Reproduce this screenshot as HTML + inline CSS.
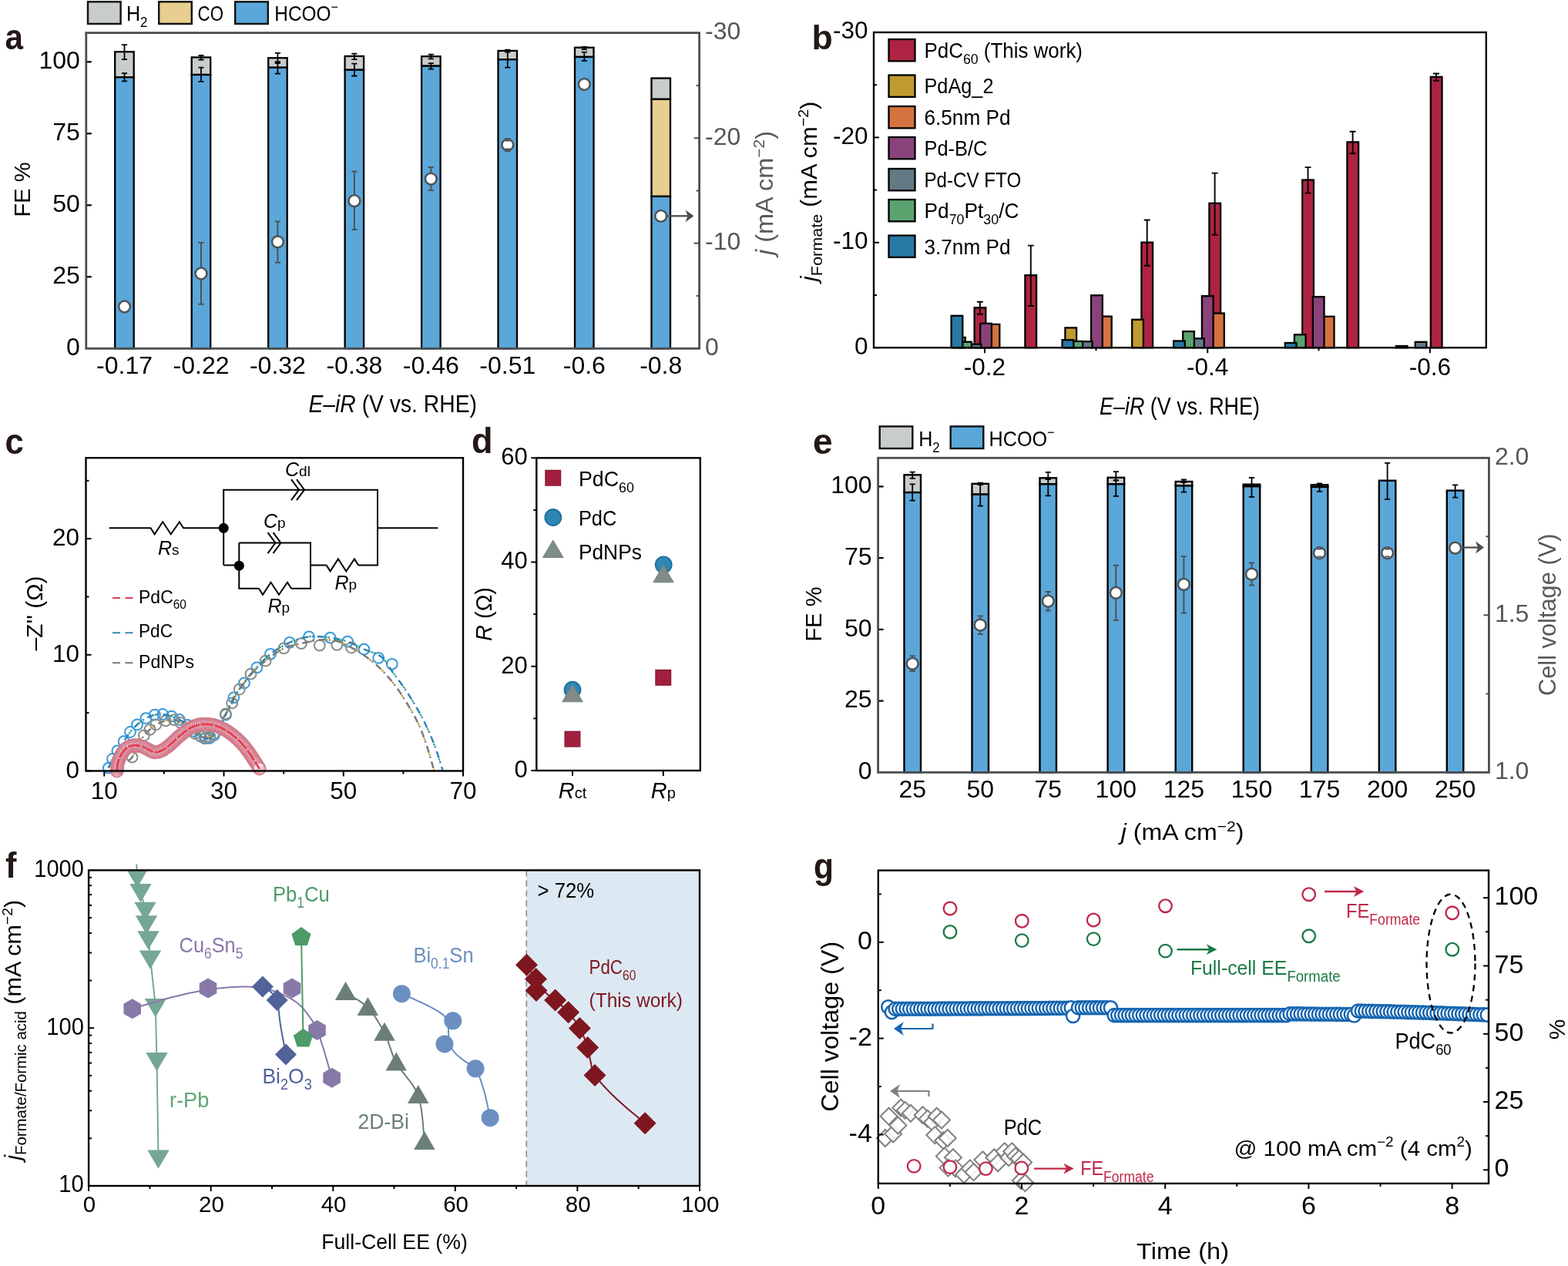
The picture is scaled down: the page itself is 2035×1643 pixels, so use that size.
<!DOCTYPE html>
<html lang="en"><head><meta charset="utf-8"><title>Figure</title>
<style>html,body{margin:0;padding:0;background:#fff;overflow:hidden}svg{display:block}text{font-family:"Liberation Sans",sans-serif}</style></head><body>
<svg width="2035" height="1643" viewBox="0 0 2035 1643">
<rect width="2035" height="1643" fill="#fff"/>
<g>
<rect x="149.2" y="67.2" width="24.5" height="33.1" fill="#C8CCCC" stroke="#000" stroke-width="2.3"/>
<rect x="149.2" y="100.3" width="24.5" height="352" fill="#5BA7DA" stroke="#000" stroke-width="2.3"/>
<rect x="248.7" y="74.4" width="24.5" height="22.6" fill="#C8CCCC" stroke="#000" stroke-width="2.3"/>
<rect x="248.7" y="97" width="24.5" height="355.3" fill="#5BA7DA" stroke="#000" stroke-width="2.3"/>
<rect x="348.2" y="75.2" width="24.5" height="12.5" fill="#C8CCCC" stroke="#000" stroke-width="2.3"/>
<rect x="348.2" y="87.7" width="24.5" height="364.6" fill="#5BA7DA" stroke="#000" stroke-width="2.3"/>
<rect x="447.6" y="72.9" width="24.5" height="17.8" fill="#C8CCCC" stroke="#000" stroke-width="2.3"/>
<rect x="447.6" y="90.7" width="24.5" height="361.6" fill="#5BA7DA" stroke="#000" stroke-width="2.3"/>
<rect x="547.1" y="73.2" width="24.5" height="12.5" fill="#C8CCCC" stroke="#000" stroke-width="2.3"/>
<rect x="547.1" y="85.7" width="24.5" height="366.6" fill="#5BA7DA" stroke="#000" stroke-width="2.3"/>
<rect x="646.5" y="65.9" width="24.5" height="11.3" fill="#C8CCCC" stroke="#000" stroke-width="2.3"/>
<rect x="646.5" y="77.2" width="24.5" height="375.1" fill="#5BA7DA" stroke="#000" stroke-width="2.3"/>
<rect x="746" y="61.7" width="24.5" height="12.2" fill="#C8CCCC" stroke="#000" stroke-width="2.3"/>
<rect x="746" y="73.9" width="24.5" height="378.4" fill="#5BA7DA" stroke="#000" stroke-width="2.3"/>
<rect x="845.5" y="101.5" width="24.5" height="27.3" fill="#C8CCCC" stroke="#000" stroke-width="2.3"/>
<rect x="845.5" y="128.8" width="24.5" height="126.1" fill="#E8CF90" stroke="#000" stroke-width="2.3"/>
<rect x="845.5" y="254.9" width="24.5" height="197.4" fill="#5BA7DA" stroke="#000" stroke-width="2.3"/>
<path d="M161.5 58.1V77.2M157.9 58.1h7.2M157.9 77.2h7.2" fill="none" stroke="#000" stroke-width="1.8"/>
<path d="M161.5 95.2V105.3M157.9 95.2h7.2M157.9 105.3h7.2" fill="none" stroke="#000" stroke-width="1.8"/>
<path d="M261 71.9V77.7M257.4 71.9h7.2M257.4 77.7h7.2" fill="none" stroke="#000" stroke-width="1.8"/>
<path d="M261 87.7V105.8M257.4 87.7h7.2M257.4 105.8h7.2" fill="none" stroke="#000" stroke-width="1.8"/>
<path d="M360.4 68.9V82M356.8 68.9h7.2M356.8 82h7.2" fill="none" stroke="#000" stroke-width="1.8"/>
<path d="M360.4 80.2V95.7M356.8 80.2h7.2M356.8 95.7h7.2" fill="none" stroke="#000" stroke-width="1.8"/>
<path d="M459.9 69.7V77.2M456.3 69.7h7.2M456.3 77.2h7.2" fill="none" stroke="#000" stroke-width="1.8"/>
<path d="M459.9 82.7V98.5M456.3 82.7h7.2M456.3 98.5h7.2" fill="none" stroke="#000" stroke-width="1.8"/>
<path d="M559.3 70.7V76.4M555.7 70.7h7.2M555.7 76.4h7.2" fill="none" stroke="#000" stroke-width="1.8"/>
<path d="M559.3 82.2V89.7M555.7 82.2h7.2M555.7 89.7h7.2" fill="none" stroke="#000" stroke-width="1.8"/>
<path d="M658.8 64.7V67.7M655.2 64.7h7.2M655.2 67.7h7.2" fill="none" stroke="#000" stroke-width="1.8"/>
<path d="M658.8 66.4V87.7M655.2 66.4h7.2M655.2 87.7h7.2" fill="none" stroke="#000" stroke-width="1.8"/>
<path d="M758.3 60.9V64.2M754.7 60.9h7.2M754.7 64.2h7.2" fill="none" stroke="#000" stroke-width="1.8"/>
<path d="M758.3 67.7V78.9M754.7 67.7h7.2M754.7 78.9h7.2" fill="none" stroke="#000" stroke-width="1.8"/>
<rect x="111.8" y="42.6" width="795.8" height="409.7" fill="none" stroke="#4A4F52" stroke-width="2.8"/>
<text x="103.8" y="461.1" font-size="32" text-anchor="end">0</text>
<line x1="112.8" y1="359.3" x2="118.8" y2="359.3" stroke="#000" stroke-width="2.2"/>
<text x="103.8" y="368.1" font-size="32" text-anchor="end">25</text>
<line x1="112.8" y1="266.3" x2="118.8" y2="266.3" stroke="#000" stroke-width="2.2"/>
<text x="103.8" y="275.1" font-size="32" text-anchor="end">50</text>
<line x1="112.8" y1="173.3" x2="118.8" y2="173.3" stroke="#000" stroke-width="2.2"/>
<text x="103.8" y="182.1" font-size="32" text-anchor="end">75</text>
<line x1="112.8" y1="80.3" x2="118.8" y2="80.3" stroke="#000" stroke-width="2.2"/>
<text x="103.8" y="89.1" font-size="32" text-anchor="end">100</text>
<text x="915.1" y="460.9" font-size="32" fill="#53575A">0</text>
<line x1="903.6" y1="384" x2="907.6" y2="384" stroke="#4A4F52" stroke-width="2"/>
<line x1="900.6" y1="315.7" x2="907.6" y2="315.7" stroke="#4A4F52" stroke-width="2"/>
<text x="915.1" y="324.3" font-size="32" fill="#53575A">-10</text>
<line x1="903.6" y1="247.5" x2="907.6" y2="247.5" stroke="#4A4F52" stroke-width="2"/>
<line x1="900.6" y1="179.2" x2="907.6" y2="179.2" stroke="#4A4F52" stroke-width="2"/>
<text x="915.1" y="187.8" font-size="32" fill="#53575A">-20</text>
<line x1="903.6" y1="110.9" x2="907.6" y2="110.9" stroke="#4A4F52" stroke-width="2"/>
<text x="915.1" y="51.2" font-size="32" fill="#53575A">-30</text>
<text x="161.5" y="485" font-size="32" text-anchor="middle">-0.17</text>
<text x="261" y="485" font-size="32" text-anchor="middle">-0.22</text>
<text x="360.4" y="485" font-size="32" text-anchor="middle">-0.32</text>
<text x="459.9" y="485" font-size="32" text-anchor="middle">-0.38</text>
<text x="559.3" y="485" font-size="32" text-anchor="middle">-0.46</text>
<text x="658.8" y="485" font-size="32" text-anchor="middle">-0.51</text>
<text x="758.3" y="485" font-size="32" text-anchor="middle">-0.6</text>
<text x="857.7" y="485" font-size="32" text-anchor="middle">-0.8</text>
<circle cx="161.5" cy="398" r="7.4" fill="#fff" stroke="#4F5356" stroke-width="2.5"/>
<path d="M261 315.1V394.8M257.4 315.1h7.2M257.4 394.8h7.2" fill="none" stroke="#4F5356" stroke-width="2"/>
<circle cx="261" cy="355" r="7.4" fill="#fff" stroke="#4F5356" stroke-width="2.5"/>
<path d="M360.4 287.5V340.7M356.8 287.5h7.2M356.8 340.7h7.2" fill="none" stroke="#4F5356" stroke-width="2"/>
<circle cx="360.4" cy="313.8" r="7.4" fill="#fff" stroke="#4F5356" stroke-width="2.5"/>
<path d="M459.9 222.6V298M456.3 222.6h7.2M456.3 298h7.2" fill="none" stroke="#4F5356" stroke-width="2"/>
<circle cx="459.9" cy="260.7" r="7.4" fill="#fff" stroke="#4F5356" stroke-width="2.5"/>
<path d="M559.3 217V246.9M555.7 217h7.2M555.7 246.9h7.2" fill="none" stroke="#4F5356" stroke-width="2"/>
<circle cx="559.3" cy="232.1" r="7.4" fill="#fff" stroke="#4F5356" stroke-width="2.5"/>
<path d="M658.8 180V196M655.2 180h7.2M655.2 196h7.2" fill="none" stroke="#4F5356" stroke-width="2"/>
<circle cx="658.8" cy="188" r="7.4" fill="#fff" stroke="#4F5356" stroke-width="2.5"/>
<path d="M655.6 182.8h6.4M655.6 193.2h6.4" fill="none" stroke="#4F5356" stroke-width="1.6"/>
<circle cx="758.3" cy="109.3" r="7.4" fill="#fff" stroke="#4F5356" stroke-width="2.5"/>
<circle cx="857.7" cy="280.3" r="7.4" fill="#fff" stroke="#4F5356" stroke-width="2.5"/>
<line x1="866.2" y1="280.3" x2="893.9" y2="280.3" stroke="#4A4F52" stroke-width="2.3"/>
<polygon points="900.5,280.3 889.5,272.4 892.6,280.3 889.5,288.2" fill="#4A4F52"/>
<text x="39" y="246" font-size="29" text-anchor="middle" transform="rotate(-90 39 246)">FE %</text>
<text x="1003" y="250.5" font-size="31" text-anchor="middle" fill="#595959" transform="rotate(-90 1003 250.5)" textLength="161" lengthAdjust="spacingAndGlyphs"><tspan font-style="italic">j</tspan> (mA cm<tspan font-size="20" baseline-shift="11">−2</tspan>)</text>
<text x="509.7" y="535" font-size="31" text-anchor="middle" textLength="218.5" lengthAdjust="spacingAndGlyphs"><tspan font-style="italic">E–iR</tspan> (V vs. RHE)</text>
<rect x="114" y="2.3" width="42.6" height="28.6" fill="#C8CCCC" stroke="#111" stroke-width="2.4"/>
<text x="164" y="27.3" font-size="27.5" textLength="27.5" lengthAdjust="spacingAndGlyphs">H<tspan font-size="18.5" baseline-shift="-8">2</tspan></text>
<rect x="206.2" y="2.3" width="42.6" height="28.6" fill="#E8CF90" stroke="#111" stroke-width="2.4"/>
<text x="256.6" y="27.3" font-size="27.5" textLength="33.3" lengthAdjust="spacingAndGlyphs">CO</text>
<rect x="305.2" y="2.3" width="42.6" height="28.6" fill="#5BA7DA" stroke="#111" stroke-width="2.4"/>
<text x="356.3" y="27.3" font-size="27.5" textLength="82.5" lengthAdjust="spacingAndGlyphs">HCOO<tspan font-size="18" baseline-shift="12">−</tspan></text>
<text x="6.5" y="64.2" font-size="46" fill="#231815" textLength="23.5" lengthAdjust="spacingAndGlyphs" font-weight="bold">a</text>
</g>
<g>
<rect x="1264.6" y="399.3" width="14.7" height="51.9" fill="#AE2342" stroke="#000" stroke-width="2.3"/>
<rect x="1330.4" y="357.2" width="14.7" height="94" fill="#AE2342" stroke="#000" stroke-width="2.3"/>
<rect x="1481.4" y="314.6" width="14.7" height="136.6" fill="#AE2342" stroke="#000" stroke-width="2.3"/>
<rect x="1569.4" y="263.8" width="14.7" height="187.4" fill="#AE2342" stroke="#000" stroke-width="2.3"/>
<rect x="1690.2" y="233.5" width="14.7" height="217.7" fill="#AE2342" stroke="#000" stroke-width="2.3"/>
<rect x="1748.4" y="184.4" width="14.7" height="266.8" fill="#AE2342" stroke="#000" stroke-width="2.3"/>
<rect x="1856.8" y="99.8" width="14.7" height="351.4" fill="#AE2342" stroke="#000" stroke-width="2.3"/>
<rect x="1811.8" y="449" width="14.7" height="2.2" fill="#000" stroke="#000" stroke-width="2.3"/>
<rect x="1238" y="437.9" width="14.7" height="13.3" fill="#BF9B30" stroke="#000" stroke-width="2.3"/>
<rect x="1382.4" y="425.4" width="14.7" height="25.8" fill="#BF9B30" stroke="#000" stroke-width="2.3"/>
<rect x="1469.2" y="414.8" width="14.7" height="36.4" fill="#BF9B30" stroke="#000" stroke-width="2.3"/>
<rect x="1282.6" y="420.9" width="14.7" height="30.3" fill="#D4733F" stroke="#000" stroke-width="2.3"/>
<rect x="1428" y="410.6" width="14.7" height="40.6" fill="#D4733F" stroke="#000" stroke-width="2.3"/>
<rect x="1574.1" y="406.6" width="14.7" height="44.6" fill="#D4733F" stroke="#000" stroke-width="2.3"/>
<rect x="1716.8" y="410.8" width="14.7" height="40.4" fill="#D4733F" stroke="#000" stroke-width="2.3"/>
<rect x="1272.2" y="419.8" width="14.7" height="31.4" fill="#8A437A" stroke="#000" stroke-width="2.3"/>
<rect x="1416.1" y="383.3" width="14.7" height="67.9" fill="#8A437A" stroke="#000" stroke-width="2.3"/>
<rect x="1559.9" y="384.2" width="14.7" height="67" fill="#8A437A" stroke="#000" stroke-width="2.3"/>
<rect x="1703.8" y="385.2" width="14.7" height="66" fill="#8A437A" stroke="#000" stroke-width="2.3"/>
<rect x="1258.8" y="446.7" width="14.7" height="4.5" fill="#637A85" stroke="#000" stroke-width="2.3"/>
<rect x="1402.9" y="443.2" width="14.7" height="8" fill="#637A85" stroke="#000" stroke-width="2.3"/>
<rect x="1548.1" y="439.3" width="14.7" height="11.9" fill="#637A85" stroke="#000" stroke-width="2.3"/>
<rect x="1836.7" y="443.8" width="14.7" height="7.4" fill="#637A85" stroke="#000" stroke-width="2.3"/>
<rect x="1246.2" y="443.7" width="14.7" height="7.5" fill="#5BA36E" stroke="#000" stroke-width="2.3"/>
<rect x="1390.4" y="442.9" width="14.7" height="8.3" fill="#5BA36E" stroke="#000" stroke-width="2.3"/>
<rect x="1535.2" y="430.1" width="14.7" height="21.1" fill="#5BA36E" stroke="#000" stroke-width="2.3"/>
<rect x="1679.9" y="434.3" width="14.7" height="16.9" fill="#5BA36E" stroke="#000" stroke-width="2.3"/>
<rect x="1234.6" y="409.8" width="14.7" height="41.4" fill="#2878A4" stroke="#000" stroke-width="2.3"/>
<rect x="1378.6" y="441.2" width="14.7" height="10" fill="#2878A4" stroke="#000" stroke-width="2.3"/>
<rect x="1523.1" y="442.5" width="14.7" height="8.7" fill="#2878A4" stroke="#000" stroke-width="2.3"/>
<rect x="1667.8" y="445" width="14.7" height="6.2" fill="#2878A4" stroke="#000" stroke-width="2.3"/>
<path d="M1271.9 391.8V407.8M1267.9 391.8h8M1267.9 407.8h8" fill="none" stroke="#000" stroke-width="1.9"/>
<path d="M1337.8 318.6V397M1333.8 318.6h8M1333.8 397h8" fill="none" stroke="#000" stroke-width="1.9"/>
<path d="M1488.7 285.5V344.7M1484.7 285.5h8M1484.7 344.7h8" fill="none" stroke="#000" stroke-width="1.9"/>
<path d="M1576.6 224.6V304.8M1572.6 224.6h8M1572.6 304.8h8" fill="none" stroke="#000" stroke-width="1.9"/>
<path d="M1697.5 217.1V250.6M1693.5 217.1h8M1693.5 250.6h8" fill="none" stroke="#000" stroke-width="1.9"/>
<path d="M1755.6 170.7V199.3M1751.6 170.7h8M1751.6 199.3h8" fill="none" stroke="#000" stroke-width="1.9"/>
<path d="M1864 95.5V104.7M1860 95.5h8M1860 104.7h8" fill="none" stroke="#000" stroke-width="1.9"/>
<rect x="1134" y="42" width="794.8" height="409.2" fill="none" stroke="#000" stroke-width="2.4"/>
<line x1="1134" y1="451.2" x2="1141" y2="451.2" stroke="#000" stroke-width="2"/>
<text x="1126.5" y="459.5" font-size="31.5" text-anchor="end">0</text>
<line x1="1134" y1="383" x2="1138" y2="383" stroke="#000" stroke-width="2"/>
<line x1="1134" y1="314.8" x2="1141" y2="314.8" stroke="#000" stroke-width="2"/>
<text x="1126.5" y="323.1" font-size="31.5" text-anchor="end">-10</text>
<line x1="1134" y1="246.6" x2="1138" y2="246.6" stroke="#000" stroke-width="2"/>
<line x1="1134" y1="178.4" x2="1141" y2="178.4" stroke="#000" stroke-width="2"/>
<text x="1126.5" y="186.7" font-size="31.5" text-anchor="end">-20</text>
<line x1="1134" y1="110.2" x2="1138" y2="110.2" stroke="#000" stroke-width="2"/>
<line x1="1134" y1="42" x2="1141" y2="42" stroke="#000" stroke-width="2"/>
<text x="1126.5" y="50.3" font-size="31.5" text-anchor="end">-30</text>
<line x1="1278" y1="451.2" x2="1278" y2="458.2" stroke="#000" stroke-width="2"/>
<text x="1278" y="487.4" font-size="31.5" text-anchor="middle">-0.2</text>
<line x1="1422.5" y1="451.2" x2="1422.5" y2="455.2" stroke="#000" stroke-width="2"/>
<line x1="1567.2" y1="451.2" x2="1567.2" y2="458.2" stroke="#000" stroke-width="2"/>
<text x="1567.2" y="487.4" font-size="31.5" text-anchor="middle">-0.4</text>
<line x1="1711.5" y1="451.2" x2="1711.5" y2="455.2" stroke="#000" stroke-width="2"/>
<line x1="1855.8" y1="451.2" x2="1855.8" y2="458.2" stroke="#000" stroke-width="2"/>
<text x="1855.8" y="487.4" font-size="31.5" text-anchor="middle">-0.6</text>
<rect x="1153.5" y="51" width="34" height="28.3" fill="#AE2342" stroke="#000" stroke-width="2.3"/>
<text x="1199.5" y="74.9" font-size="27.2" textLength="205.5" lengthAdjust="spacingAndGlyphs">PdC<tspan font-size="18.5" baseline-shift="-8">60</tspan> (This work)</text>
<rect x="1153.5" y="97.5" width="34" height="28.3" fill="#BF9B30" stroke="#000" stroke-width="2.3"/>
<text x="1199.5" y="121.4" font-size="27.2" textLength="90" lengthAdjust="spacingAndGlyphs">PdAg_2</text>
<rect x="1153.5" y="138" width="34" height="28.3" fill="#D4733F" stroke="#000" stroke-width="2.3"/>
<text x="1199.5" y="161.9" font-size="27.2" textLength="112" lengthAdjust="spacingAndGlyphs">6.5nm Pd</text>
<rect x="1153.5" y="178" width="34" height="28.3" fill="#8A437A" stroke="#000" stroke-width="2.3"/>
<text x="1199.5" y="201.9" font-size="27.2" textLength="82" lengthAdjust="spacingAndGlyphs">Pd-B/C</text>
<rect x="1153.5" y="219" width="34" height="28.3" fill="#637A85" stroke="#000" stroke-width="2.3"/>
<text x="1199.5" y="242.9" font-size="27.2" textLength="125.7" lengthAdjust="spacingAndGlyphs">Pd-CV FTO</text>
<rect x="1153.5" y="259" width="34" height="28.3" fill="#5BA36E" stroke="#000" stroke-width="2.3"/>
<text x="1199.5" y="282.9" font-size="27.2" textLength="123" lengthAdjust="spacingAndGlyphs">Pd<tspan font-size="18.5" baseline-shift="-8">70</tspan>Pt<tspan font-size="18.5" baseline-shift="-8">30</tspan>/C</text>
<rect x="1153.5" y="305.6" width="34" height="28.3" fill="#2878A4" stroke="#000" stroke-width="2.3"/>
<text x="1199.5" y="329.5" font-size="27.2" textLength="112" lengthAdjust="spacingAndGlyphs">3.7nm Pd</text>
<text x="1060" y="248.4" font-size="30" text-anchor="middle" transform="rotate(-90 1060 248.4)" textLength="233.5" lengthAdjust="spacingAndGlyphs"><tspan font-style="italic">j</tspan><tspan font-size="21" baseline-shift="-7">Formate</tspan> (mA cm<tspan font-size="19" baseline-shift="11">−2</tspan>)</text>
<text x="1531" y="538" font-size="30.5" text-anchor="middle" textLength="208" lengthAdjust="spacingAndGlyphs"><tspan font-style="italic">E–iR</tspan> (V vs. RHE)</text>
<text x="1053.5" y="64.2" font-size="45" fill="#231815" textLength="27.3" lengthAdjust="spacingAndGlyphs" font-weight="bold">b</text>
</g>
<g>
<circle cx="140.9" cy="996.7" r="6.9" fill="none" stroke="#3A9AD9" stroke-width="2"/>
<circle cx="146" cy="985" r="6.9" fill="none" stroke="#3A9AD9" stroke-width="2"/>
<circle cx="152.4" cy="974.3" r="6.9" fill="none" stroke="#3A9AD9" stroke-width="2"/>
<circle cx="160.7" cy="962.2" r="6.9" fill="none" stroke="#3A9AD9" stroke-width="2"/>
<circle cx="169" cy="950" r="6.9" fill="none" stroke="#3A9AD9" stroke-width="2"/>
<circle cx="178" cy="940.5" r="6.9" fill="none" stroke="#3A9AD9" stroke-width="2"/>
<circle cx="189.4" cy="932.2" r="6.9" fill="none" stroke="#3A9AD9" stroke-width="2"/>
<circle cx="200.9" cy="927.7" r="6.9" fill="none" stroke="#3A9AD9" stroke-width="2"/>
<circle cx="211.2" cy="927" r="6.9" fill="none" stroke="#3A9AD9" stroke-width="2"/>
<circle cx="222.7" cy="929.6" r="6.9" fill="none" stroke="#3A9AD9" stroke-width="2"/>
<circle cx="232.9" cy="934" r="6.9" fill="none" stroke="#3A9AD9" stroke-width="2"/>
<circle cx="243" cy="941" r="6.9" fill="none" stroke="#3A9AD9" stroke-width="2"/>
<circle cx="252" cy="949" r="6.9" fill="none" stroke="#3A9AD9" stroke-width="2"/>
<circle cx="260" cy="955" r="6.9" fill="none" stroke="#3A9AD9" stroke-width="2"/>
<circle cx="266" cy="958.4" r="6.9" fill="none" stroke="#3A9AD9" stroke-width="2"/>
<circle cx="272" cy="958" r="6.9" fill="none" stroke="#3A9AD9" stroke-width="2"/>
<circle cx="278" cy="954" r="6.9" fill="none" stroke="#3A9AD9" stroke-width="2"/>
<circle cx="285" cy="945" r="6.9" fill="none" stroke="#3A9AD9" stroke-width="2"/>
<circle cx="293" cy="927.7" r="6.9" fill="none" stroke="#3A9AD9" stroke-width="2"/>
<circle cx="303.3" cy="905.3" r="6.9" fill="none" stroke="#3A9AD9" stroke-width="2"/>
<circle cx="317" cy="886.5" r="6.9" fill="none" stroke="#3A9AD9" stroke-width="2"/>
<circle cx="333.3" cy="866.4" r="6.9" fill="none" stroke="#3A9AD9" stroke-width="2"/>
<circle cx="350.9" cy="848.9" r="6.9" fill="none" stroke="#3A9AD9" stroke-width="2"/>
<circle cx="375.9" cy="833.8" r="6.9" fill="none" stroke="#3A9AD9" stroke-width="2"/>
<circle cx="401" cy="826.3" r="6.9" fill="none" stroke="#3A9AD9" stroke-width="2"/>
<circle cx="428.6" cy="827.6" r="6.9" fill="none" stroke="#3A9AD9" stroke-width="2"/>
<circle cx="451.1" cy="832.6" r="6.9" fill="none" stroke="#3A9AD9" stroke-width="2"/>
<circle cx="472.4" cy="842.6" r="6.9" fill="none" stroke="#3A9AD9" stroke-width="2"/>
<circle cx="491.2" cy="853.9" r="6.9" fill="none" stroke="#3A9AD9" stroke-width="2"/>
<circle cx="508.8" cy="861.8" r="6.9" fill="none" stroke="#3A9AD9" stroke-width="2"/>
<circle cx="171.5" cy="982.7" r="6.9" fill="none" stroke="#8C8C8C" stroke-width="2"/>
<circle cx="178" cy="969" r="6.9" fill="none" stroke="#8C8C8C" stroke-width="2"/>
<circle cx="186.9" cy="954.5" r="6.9" fill="none" stroke="#8C8C8C" stroke-width="2"/>
<circle cx="194.5" cy="946.9" r="6.9" fill="none" stroke="#8C8C8C" stroke-width="2"/>
<circle cx="202.2" cy="940.5" r="6.9" fill="none" stroke="#8C8C8C" stroke-width="2"/>
<circle cx="215" cy="935.4" r="6.9" fill="none" stroke="#8C8C8C" stroke-width="2"/>
<circle cx="225.8" cy="934.1" r="6.9" fill="none" stroke="#8C8C8C" stroke-width="2"/>
<circle cx="234.2" cy="937.9" r="6.9" fill="none" stroke="#8C8C8C" stroke-width="2"/>
<circle cx="244" cy="945" r="6.9" fill="none" stroke="#8C8C8C" stroke-width="2"/>
<circle cx="253" cy="952" r="6.9" fill="none" stroke="#8C8C8C" stroke-width="2"/>
<circle cx="261" cy="956" r="6.9" fill="none" stroke="#8C8C8C" stroke-width="2"/>
<circle cx="267.4" cy="957.1" r="6.9" fill="none" stroke="#8C8C8C" stroke-width="2"/>
<circle cx="272" cy="956" r="6.9" fill="none" stroke="#8C8C8C" stroke-width="2"/>
<circle cx="277.6" cy="952" r="6.9" fill="none" stroke="#8C8C8C" stroke-width="2"/>
<circle cx="284" cy="942" r="6.9" fill="none" stroke="#8C8C8C" stroke-width="2"/>
<circle cx="292.9" cy="926.4" r="6.9" fill="none" stroke="#8C8C8C" stroke-width="2"/>
<circle cx="301.2" cy="912.4" r="6.9" fill="none" stroke="#8C8C8C" stroke-width="2"/>
<circle cx="310.8" cy="894.5" r="6.9" fill="none" stroke="#8C8C8C" stroke-width="2"/>
<circle cx="325.5" cy="874.7" r="6.9" fill="none" stroke="#8C8C8C" stroke-width="2"/>
<circle cx="344.6" cy="857.6" r="6.9" fill="none" stroke="#8C8C8C" stroke-width="2"/>
<circle cx="368.4" cy="841.4" r="6.9" fill="none" stroke="#8C8C8C" stroke-width="2"/>
<circle cx="391" cy="835.1" r="6.9" fill="none" stroke="#8C8C8C" stroke-width="2"/>
<circle cx="414.8" cy="837.6" r="6.9" fill="none" stroke="#8C8C8C" stroke-width="2"/>
<circle cx="437.3" cy="836.8" r="6.9" fill="none" stroke="#8C8C8C" stroke-width="2"/>
<circle cx="456.1" cy="840.5" r="6.9" fill="none" stroke="#8C8C8C" stroke-width="2"/>
<path d="M140.9 996.7L141.4 995.4L142.2 993.6L143.1 991.5L144 989.3L145 987L146 985L147 983.2L148 981.4L149 979.7L150.1 977.9L151.2 976.2L152.4 974.3L153.7 972.4L155 970.4L156.4 968.3L157.9 966.3L159.3 964.2L160.7 962.2L162.1 960.1L163.4 958L164.8 955.9L166.2 953.9L167.6 951.9L169 950L170.4 948.2L171.9 946.6L173.3 945L174.8 943.5L176.4 942L178 940.5L179.8 939L181.6 937.5L183.5 936L185.5 934.6L187.5 933.3L189.4 932.2L191.3 931.2L193.3 930.3L195.2 929.5L197.2 928.8L199.1 928.2L200.9 927.7L202.7 927.3L204.4 927.1L206 926.9L207.7 926.8L209.4 926.9L211.2 927L213.1 927.2L215 927.6L217 928L218.9 928.5L220.8 929L222.7 929.6L224.5 930.2L226.2 930.8L227.9 931.5L229.6 932.3L231.2 933.1L232.9 934L234.6 935L236.3 936.1L238 937.3L239.7 938.5L241.4 939.7L243 941L244.6 942.3L246.1 943.7L247.6 945.1L249.1 946.4L250.6 947.8L252 949L253.4 950.1L254.8 951.2L256.2 952.3L257.5 953.3L258.8 954.2L260 955L261.1 955.8L262.1 956.5L263.1 957.1L264.1 957.6L265 958.1L266 958.4L267 958.6L268 958.7L269 958.7L270 958.5L271 958.3L272 958L273 957.6L274 957.1L274.9 956.5L275.9 955.8L276.9 955L278 954L279.1 952.9L280.2 951.7L281.4 950.3L282.6 948.8L283.8 947L285 945L286.2 942.7L287.5 940L288.8 937.2L290.1 934.2L291.5 931L293 927.7L294.5 924.2L296.1 920.5L297.8 916.6L299.5 912.7L301.4 908.9L303.3 905.3L305.4 902L307.5 898.8L309.8 895.8L312.1 892.7L314.5 889.7L317 886.5L319.6 883.2L322.2 879.8L324.9 876.4L327.7 873L330.5 869.6L333.3 866.4L336.1 863.3L338.8 860.3L341.6 857.3L344.4 854.5L347.5 851.6L350.9 848.9L354.6 846.2L358.7 843.4L362.9 840.7L367.3 838.2L371.6 835.8L375.9 833.8L380 832L384.2 830.4L388.3 829L392.4 827.9L396.7 827L401 826.3L405.5 826L410.2 825.9L415 826.2L419.7 826.6L424.3 827.1L428.6 827.6L432.7 828.2L436.5 828.8L440.2 829.6L443.9 830.4L447.5 831.4L451.1 832.6L454.7 834L458.2 835.6L461.7 837.3L465.2 839.1L468.8 840.9L472.4 842.6L476.2 844.1L480.1 845.5L484 846.8L487.9 848.3L491.6 850.2L495 852.5L498 855.4L500.8 858.8L503.4 862.5L505.8 866.4L508.3 870.2L510.9 874L513.5 877.6L516.1 881.1L518.8 884.6L521.4 888.2L524.1 892L526.8 896.1L529.7 900.5L532.7 905.2L535.7 910.1L538.7 915.1L541.6 920L544.2 924.6L546.6 929L548.9 933.3L551 937.5L553 941.7L554.9 945.8L556.8 949.9L558.6 953.9L560.2 957.9L561.8 961.7L563.3 965.6L564.8 969.6L566.3 973.7L567.8 978.2L569.5 983.3L571 988.3L572.5 993.1L573.7 997.1L574.6 1000" fill="none" stroke="#2E86B5" stroke-width="2.5" stroke-dasharray="9 5 2 5"/>
<path d="M140.9 996.7L141.4 995.4L142.2 993.6L143.1 991.5L144 989.3L145 987L146 985L147 983.2L148 981.4L149 979.7L150.1 977.9L151.2 976.2L152.4 974.3L153.7 972.4L155 970.4L156.4 968.3L157.9 966.3L159.3 964.2L160.7 962.2L162.1 960.1L163.4 958L164.8 955.9L166.2 953.9L167.6 951.9L169 950L170.4 948.2L171.9 946.6L173.3 945L174.8 943.5L176.4 942L178 940.5L179.8 939L181.6 937.5L183.5 936L185.5 934.6L187.5 933.3L189.4 932.2L191.3 931.2L193.3 930.3L195.2 929.5L197.2 928.8L199.1 928.2L200.9 927.7L202.7 927.3L204.4 927.1L206 926.9L207.7 926.8L209.4 926.9L211.2 927L213.1 927.2L215 927.6L217 928L218.9 928.5L220.8 929L222.7 929.6L224.5 930.2L226.2 930.8L227.9 931.5L229.6 932.3L231.2 933.1L232.9 934L234.6 935L236.3 936.1L238 937.3L239.7 938.5L241.4 939.7L243 941L244.6 942.3L246.1 943.7L247.6 945.1L249.1 946.4L250.6 947.8L252 949L253.4 950.1L254.8 951.2L256.2 952.3L257.5 953.3L258.8 954.2L260 955L261.1 955.8L262.1 956.5L263.1 957.1L264.1 957.6L265 958.1L266 958.4L267 958.6L268 958.7L269 958.7L270 958.5L271 958.3L272 958L273 957.6L274 957.1L274.9 956.5L275.9 955.8L276.9 955L278 954L279.1 952.9L280.2 951.7L281.4 950.3L282.6 948.8L283.8 947L285 945L286.2 942.7L287.5 940L288.8 937.2L290.1 934.2L291.5 931L293 927.7L294.5 924.2L296.1 920.5L297.8 916.6L299.5 912.7L301.4 908.9L303.3 905.3L305.4 902L307.5 898.8L309.8 895.8L312.1 892.7L314.5 889.7L317 886.5L319.6 883.2L322.2 879.8L324.9 876.4L327.7 873L330.5 869.6L333.3 866.4L336.1 863.3L338.8 860.3L341.6 857.3L344.4 854.5L347.5 851.6L350.9 848.9L354.6 846.2L358.7 843.4L362.9 840.7L367.3 838.2L371.6 835.8L375.9 833.8L380 832L384.2 830.4L388.3 829L392.4 827.9L396.7 827L401 826.3L405.5 826L410.2 825.9L415 826.2L419.7 826.6L424.3 827.1L428.6 827.6L432.7 828.2L436.5 828.8L440.2 829.6L443.9 830.4L447.5 831.4L451.1 832.6L454.7 834L458.2 835.6L461.7 837.3L465.2 839.1L468.8 840.9L472.4 842.6L476.2 844.1L480.1 845.5L484 846.8L487.9 848.3L491.6 850.2L495 852.5L498 855.4L500.8 858.8L503.4 862.5L505.8 866.4L508.3 870.2L510.9 874L513.5 877.6L516.1 881.1L518.8 884.6L521.4 888.2L524.1 892L526.8 896.1L529.7 900.5L532.7 905.2L535.7 910.1L538.7 915.1L541.6 920L544.2 924.6L546.6 929L548.9 933.3L551 937.5L553 941.7L554.9 945.8L556.8 949.9L558.6 953.9L560.2 957.9L561.8 961.7L563.3 965.6L564.8 969.6L566.3 973.7L567.8 978.2L569.5 983.3L571 988.3L572.5 993.1L573.7 997.1L574.6 1000" fill="none" stroke="#1FA37A" stroke-width="2" stroke-dasharray="3 18" stroke-dashoffset="-10"/>
<path d="M152 1000L152.6 998.8L153.5 997.1L154.6 995.1L155.7 993.1L156.9 991.3L158 990L159.1 989.2L160.3 988.9L161.5 988.7L162.7 988.6L163.9 988.4L165 988L166.1 987.4L167.2 986.8L168.3 986.1L169.4 985.2L170.4 984.1L171.5 982.7L172.6 980.9L173.6 978.8L174.6 976.4L175.7 973.9L176.8 971.4L178 969L179.4 966.5L180.8 964L182.4 961.4L183.9 958.9L185.5 956.5L186.9 954.5L188.2 952.8L189.5 951.4L190.8 950.2L192 949.1L193.2 948L194.5 946.9L195.7 945.7L196.9 944.6L198 943.5L199.3 942.5L200.6 941.5L202.2 940.5L204.1 939.5L206.2 938.6L208.4 937.6L210.7 936.8L212.9 936L215 935.4L216.9 934.9L218.8 934.5L220.7 934.2L222.5 934L224.2 934L225.8 934.1L227.3 934.4L228.7 934.9L230.1 935.5L231.4 936.2L232.7 937L234.2 937.9L235.8 938.9L237.4 940L239.1 941.2L240.7 942.5L242.4 943.8L244 945L245.6 946.2L247.1 947.5L248.6 948.7L250.1 949.9L251.6 951L253 952L254.4 952.9L255.8 953.7L257.2 954.4L258.5 955L259.8 955.5L261 956L262.2 956.4L263.3 956.7L264.4 956.9L265.5 957L266.5 957.1L267.4 957.1L268.3 957.1L269 957L269.8 956.9L270.5 956.7L271.2 956.4L272 956L272.9 955.6L273.8 955.1L274.7 954.6L275.6 953.9L276.6 953L277.6 952L278.6 950.7L279.6 949.3L280.6 947.7L281.7 946L282.8 944.1L284 942L285.3 939.7L286.8 937.2L288.3 934.5L289.9 931.7L291.4 929L292.9 926.4L294.3 924L295.7 921.8L297 919.5L298.4 917.3L299.7 914.9L301.2 912.4L302.7 909.7L304.1 906.8L305.6 903.8L307.2 900.8L308.9 897.6L310.8 894.5L312.9 891.3L315.2 887.9L317.6 884.6L320.1 881.2L322.7 877.9L325.5 874.7L328.4 871.7L331.4 868.8L334.5 865.9L337.7 863.1L341.1 860.4L344.6 857.6L348.3 854.7L352.2 851.8L356.3 848.8L360.4 846L364.4 843.5L368.4 841.4L372.2 839.8L376 838.5L379.7 837.5L383.4 836.7L387.2 835.9L391 835.1L394.9 834.2L398.9 833.2L402.9 832.3L406.9 831.5L410.9 830.9L414.8 830.5L418.7 830.3L422.5 830.3L426.4 830.4L430.1 830.8L433.8 831.3L437.3 832L440.6 833L443.8 834.2L446.9 835.6L449.9 837.1L452.9 838.8L456.1 840.5L459.4 842.3L462.7 844.2L466 846.3L469.4 848.4L472.7 850.7L476 853L479.2 855.4L482.4 857.9L485.6 860.5L488.8 863.2L491.9 866.1L495.1 869.2L498.3 872.5L501.5 876L504.7 879.6L507.9 883.4L511 887.4L514.1 891.4L517.1 895.6L520.2 900.1L523.2 904.8L526.1 909.4L528.9 913.9L531.5 918.3L533.9 922.4L536.2 926.4L538.3 930.2L540.4 934.1L542.3 938L544.2 942L546 946L547.6 950L549.1 954.1L550.6 958.3L552.1 962.6L553.7 967.3L555.4 972.7L557.3 978.9L559.1 985.2L560.9 991.2L562.3 996.4L563.4 1000" fill="none" stroke="#7A7A7A" stroke-width="2.5" stroke-dasharray="9 5 2 5"/>
<path d="M152 1000L152.6 998.8L153.5 997.1L154.6 995.1L155.7 993.1L156.9 991.3L158 990L159.1 989.2L160.3 988.9L161.5 988.7L162.7 988.6L163.9 988.4L165 988L166.1 987.4L167.2 986.8L168.3 986.1L169.4 985.2L170.4 984.1L171.5 982.7L172.6 980.9L173.6 978.8L174.6 976.4L175.7 973.9L176.8 971.4L178 969L179.4 966.5L180.8 964L182.4 961.4L183.9 958.9L185.5 956.5L186.9 954.5L188.2 952.8L189.5 951.4L190.8 950.2L192 949.1L193.2 948L194.5 946.9L195.7 945.7L196.9 944.6L198 943.5L199.3 942.5L200.6 941.5L202.2 940.5L204.1 939.5L206.2 938.6L208.4 937.6L210.7 936.8L212.9 936L215 935.4L216.9 934.9L218.8 934.5L220.7 934.2L222.5 934L224.2 934L225.8 934.1L227.3 934.4L228.7 934.9L230.1 935.5L231.4 936.2L232.7 937L234.2 937.9L235.8 938.9L237.4 940L239.1 941.2L240.7 942.5L242.4 943.8L244 945L245.6 946.2L247.1 947.5L248.6 948.7L250.1 949.9L251.6 951L253 952L254.4 952.9L255.8 953.7L257.2 954.4L258.5 955L259.8 955.5L261 956L262.2 956.4L263.3 956.7L264.4 956.9L265.5 957L266.5 957.1L267.4 957.1L268.3 957.1L269 957L269.8 956.9L270.5 956.7L271.2 956.4L272 956L272.9 955.6L273.8 955.1L274.7 954.6L275.6 953.9L276.6 953L277.6 952L278.6 950.7L279.6 949.3L280.6 947.7L281.7 946L282.8 944.1L284 942L285.3 939.7L286.8 937.2L288.3 934.5L289.9 931.7L291.4 929L292.9 926.4L294.3 924L295.7 921.8L297 919.5L298.4 917.3L299.7 914.9L301.2 912.4L302.7 909.7L304.1 906.8L305.6 903.8L307.2 900.8L308.9 897.6L310.8 894.5L312.9 891.3L315.2 887.9L317.6 884.6L320.1 881.2L322.7 877.9L325.5 874.7L328.4 871.7L331.4 868.8L334.5 865.9L337.7 863.1L341.1 860.4L344.6 857.6L348.3 854.7L352.2 851.8L356.3 848.8L360.4 846L364.4 843.5L368.4 841.4L372.2 839.8L376 838.5L379.7 837.5L383.4 836.7L387.2 835.9L391 835.1L394.9 834.2L398.9 833.2L402.9 832.3L406.9 831.5L410.9 830.9L414.8 830.5L418.7 830.3L422.5 830.3L426.4 830.4L430.1 830.8L433.8 831.3L437.3 832L440.6 833L443.8 834.2L446.9 835.6L449.9 837.1L452.9 838.8L456.1 840.5L459.4 842.3L462.7 844.2L466 846.3L469.4 848.4L472.7 850.7L476 853L479.2 855.4L482.4 857.9L485.6 860.5L488.8 863.2L491.9 866.1L495.1 869.2L498.3 872.5L501.5 876L504.7 879.6L507.9 883.4L511 887.4L514.1 891.4L517.1 895.6L520.2 900.1L523.2 904.8L526.1 909.4L528.9 913.9L531.5 918.3L533.9 922.4L536.2 926.4L538.3 930.2L540.4 934.1L542.3 938L544.2 942L546 946L547.6 950L549.1 954.1L550.6 958.3L552.1 962.6L553.7 967.3L555.4 972.7L557.3 978.9L559.1 985.2L560.9 991.2L562.3 996.4L563.4 1000" fill="none" stroke="#C8961E" stroke-width="2" stroke-dasharray="3 18" stroke-dashoffset="-10"/>
<g fill="#fff" fill-opacity="0.3" stroke="#D27B8C" stroke-width="1.9">
<circle cx="151.7" cy="1000.5" r="8"/>
<circle cx="151.9" cy="997.9" r="8"/>
<circle cx="152.2" cy="995.3" r="8"/>
<circle cx="152.5" cy="992.7" r="8"/>
<circle cx="153" cy="990.2" r="8"/>
<circle cx="153.7" cy="987.7" r="8"/>
<circle cx="154.6" cy="985.2" r="8"/>
<circle cx="155.6" cy="982.8" r="8"/>
<circle cx="156.7" cy="980.5" r="8"/>
<circle cx="158" cy="978.3" r="8"/>
<circle cx="159.5" cy="976.1" r="8"/>
<circle cx="161.1" cy="974.1" r="8"/>
<circle cx="162.8" cy="972.2" r="8"/>
<circle cx="164.9" cy="970.5" r="8"/>
<circle cx="167.1" cy="969.2" r="8"/>
<circle cx="169.5" cy="968.2" r="8"/>
<circle cx="172" cy="967.5" r="8"/>
<circle cx="174.6" cy="967.2" r="8"/>
<circle cx="177.2" cy="967.3" r="8"/>
<circle cx="179.7" cy="967.7" r="8"/>
<circle cx="182.3" cy="968.2" r="8"/>
<circle cx="184.8" cy="968.9" r="8"/>
<circle cx="187.2" cy="969.9" r="8"/>
<circle cx="189.5" cy="971.2" r="8"/>
<circle cx="191.8" cy="972.4" r="8"/>
<circle cx="194.1" cy="973.5" r="8"/>
<circle cx="196.4" cy="974.8" r="8"/>
<circle cx="198.8" cy="975.8" r="8"/>
<circle cx="201.3" cy="976.3" r="8"/>
<circle cx="203.9" cy="976.1" r="8"/>
<circle cx="206.4" cy="975.5" r="8"/>
<circle cx="208.8" cy="974.5" r="8"/>
<circle cx="211.2" cy="973.4" r="8"/>
<circle cx="213.4" cy="972" r="8"/>
<circle cx="215.5" cy="970.5" r="8"/>
<circle cx="217.6" cy="969" r="8"/>
<circle cx="219.6" cy="967.3" r="8"/>
<circle cx="221.6" cy="965.6" r="8"/>
<circle cx="223.5" cy="963.9" r="8"/>
<circle cx="225.4" cy="962.1" r="8"/>
<circle cx="227.3" cy="960.3" r="8"/>
<circle cx="229.2" cy="958.5" r="8"/>
<circle cx="231.1" cy="956.8" r="8"/>
<circle cx="233.1" cy="955.1" r="8"/>
<circle cx="235.1" cy="953.4" r="8"/>
<circle cx="237.1" cy="951.8" r="8"/>
<circle cx="239.1" cy="950.2" r="8"/>
<circle cx="241.2" cy="948.6" r="8"/>
<circle cx="243.3" cy="947.1" r="8"/>
<circle cx="245.5" cy="945.7" r="8"/>
<circle cx="247.8" cy="944.4" r="8"/>
<circle cx="250.1" cy="943.3" r="8"/>
<circle cx="252.5" cy="942.3" r="8"/>
<circle cx="255" cy="941.5" r="8"/>
<circle cx="257.5" cy="940.8" r="8"/>
<circle cx="260" cy="940.3" r="8"/>
<circle cx="262.6" cy="940" r="8"/>
<circle cx="265.2" cy="939.9" r="8"/>
<circle cx="267.8" cy="939.9" r="8"/>
<circle cx="270.4" cy="940" r="8"/>
<circle cx="273" cy="940.3" r="8"/>
<circle cx="275.6" cy="940.7" r="8"/>
<circle cx="278.1" cy="941.3" r="8"/>
<circle cx="280.6" cy="942" r="8"/>
<circle cx="283" cy="942.9" r="8"/>
<circle cx="285.5" cy="943.9" r="8"/>
<circle cx="287.8" cy="944.9" r="8"/>
<circle cx="290.2" cy="946.1" r="8"/>
<circle cx="292.4" cy="947.3" r="8"/>
<circle cx="294.6" cy="948.7" r="8"/>
<circle cx="296.8" cy="950.2" r="8"/>
<circle cx="298.9" cy="951.7" r="8"/>
<circle cx="301" cy="953.2" r="8"/>
<circle cx="303" cy="954.8" r="8"/>
<circle cx="305" cy="956.5" r="8"/>
<circle cx="307" cy="958.2" r="8"/>
<circle cx="308.9" cy="960" r="8"/>
<circle cx="310.8" cy="961.8" r="8"/>
<circle cx="312.6" cy="963.6" r="8"/>
<circle cx="314.4" cy="965.5" r="8"/>
<circle cx="316.1" cy="967.5" r="8"/>
<circle cx="317.8" cy="969.5" r="8"/>
<circle cx="319.4" cy="971.5" r="8"/>
<circle cx="320.9" cy="973.6" r="8"/>
<circle cx="322.5" cy="975.7" r="8"/>
<circle cx="324" cy="977.8" r="8"/>
<circle cx="325.4" cy="980" r="8"/>
<circle cx="326.9" cy="982.1" r="8"/>
<circle cx="328.3" cy="984.3" r="8"/>
<circle cx="329.7" cy="986.5" r="8"/>
<circle cx="331.1" cy="988.7" r="8"/>
<circle cx="332.5" cy="990.9" r="8"/>
<circle cx="333.9" cy="993.1" r="8"/>
<circle cx="335.3" cy="995.3" r="8"/>
<circle cx="336.7" cy="997.5" r="8"/>
</g>
<path d="M151.7 1000.5L151.8 999.4L151.9 997.8L152.1 995.9L152.3 993.9L152.6 991.8L153 990L153.5 988.3L154.1 986.6L154.7 984.8L155.4 983.2L156.2 981.5L157 980L157.9 978.5L158.8 977L159.8 975.6L160.9 974.3L161.9 973.1L163 972L164.1 971.1L165.3 970.2L166.5 969.5L167.7 968.9L168.8 968.4L170 968L171.1 967.7L172.2 967.4L173.3 967.3L174.4 967.2L175.5 967.2L176.7 967.3L178 967.4L179.4 967.6L180.8 967.9L182.2 968.2L183.6 968.6L185 969L186.4 969.5L187.7 970.2L189 970.9L190.3 971.6L191.7 972.3L193 973L194.3 973.7L195.6 974.4L196.9 975L198.3 975.6L199.6 976.1L201 976.3L202.4 976.3L203.9 976.1L205.4 975.8L206.9 975.3L208.4 974.7L210 974L211.6 973.2L213.2 972.2L214.8 971L216.5 969.8L218.2 968.5L220 967L221.9 965.4L223.8 963.6L225.8 961.7L227.9 959.7L229.9 957.8L232 956L234.1 954.2L236.4 952.4L238.6 950.6L240.9 948.9L243 947.3L245 946L246.8 944.9L248.6 944L250.2 943.2L251.8 942.6L253.4 942L255 941.5L256.6 941L258.2 940.7L259.8 940.3L261.4 940.1L263 940L264.8 939.9L266.7 939.9L268.7 939.9L270.7 940L272.8 940.2L274.9 940.6L277 941L279.1 941.6L281.3 942.3L283.5 943.1L285.7 944L287.9 944.9L290 946L292.1 947.1L294.1 948.4L296.1 949.7L298.1 951.1L300.1 952.5L302 954L303.9 955.5L305.8 957.1L307.7 958.8L309.5 960.5L311.3 962.3L313 964L314.6 965.8L316.2 967.6L317.7 969.4L319.1 971.2L320.6 973.1L322 975L323.4 977L324.8 979L326.1 981L327.4 983L328.7 985L330 987L331.3 989L332.7 991.1L334 993.2L335.2 995.2L336.2 996.8L337 998" fill="none" stroke="#E8394F" stroke-width="2.6" stroke-dasharray="16 2"/>
<rect x="111.5" y="594.2" width="489.5" height="406.3" fill="none" stroke="#000" stroke-width="2.4"/>
<line x1="111.5" y1="1000.5" x2="118.5" y2="1000.5" stroke="#000" stroke-width="2"/>
<text x="103" y="1009.5" font-size="31.5" text-anchor="end">0</text>
<line x1="111.5" y1="925.1" x2="115.5" y2="925.1" stroke="#000" stroke-width="2"/>
<line x1="111.5" y1="849.8" x2="118.5" y2="849.8" stroke="#000" stroke-width="2"/>
<text x="103" y="858.8" font-size="31.5" text-anchor="end">10</text>
<line x1="111.5" y1="774.5" x2="115.5" y2="774.5" stroke="#000" stroke-width="2"/>
<line x1="111.5" y1="699.1" x2="118.5" y2="699.1" stroke="#000" stroke-width="2"/>
<text x="103" y="708.1" font-size="31.5" text-anchor="end">20</text>
<line x1="111.5" y1="623.8" x2="115.5" y2="623.8" stroke="#000" stroke-width="2"/>
<line x1="135.3" y1="1000.5" x2="135.3" y2="1007.5" stroke="#000" stroke-width="2"/>
<text x="135.3" y="1037" font-size="31.5" text-anchor="middle">10</text>
<line x1="212.9" y1="1000.5" x2="212.9" y2="1004.5" stroke="#000" stroke-width="2"/>
<line x1="290.5" y1="1000.5" x2="290.5" y2="1007.5" stroke="#000" stroke-width="2"/>
<text x="290.5" y="1037" font-size="31.5" text-anchor="middle">30</text>
<line x1="368.2" y1="1000.5" x2="368.2" y2="1004.5" stroke="#000" stroke-width="2"/>
<line x1="445.8" y1="1000.5" x2="445.8" y2="1007.5" stroke="#000" stroke-width="2"/>
<text x="445.8" y="1037" font-size="31.5" text-anchor="middle">50</text>
<line x1="523.4" y1="1000.5" x2="523.4" y2="1004.5" stroke="#000" stroke-width="2"/>
<line x1="601" y1="1000.5" x2="601" y2="1007.5" stroke="#000" stroke-width="2"/>
<text x="601" y="1037" font-size="31.5" text-anchor="middle">70</text>
<path d="M146 776h10M162.5 776h10" fill="none" stroke="#D8425A" stroke-width="2"/>
<text x="180" y="782.6" font-size="24.5" textLength="62" lengthAdjust="spacingAndGlyphs">PdC<tspan font-size="16.5" baseline-shift="-6.5">60</tspan></text>
<path d="M146 821.2h10M162.5 821.2h10" fill="none" stroke="#2E86B5" stroke-width="2"/>
<text x="180" y="827" font-size="24.5" textLength="44" lengthAdjust="spacingAndGlyphs">PdC</text>
<path d="M146 860.2h10M162.5 860.2h10" fill="none" stroke="#7A7A7A" stroke-width="2"/>
<text x="180" y="867.2" font-size="24.5" textLength="72" lengthAdjust="spacingAndGlyphs">PdNPs</text>
<path d="M141.6 685.3L195.5 685.3L200.6 693.3L211.2 677.3L221.8 693.3L232.9 677.3L238 685.3L290.2 685.3M290.2 733.4V635.7H490V733.4H465M490 685.3H568.4M423.6 733.4L428.6 741.4L438.9 725.4L449.3 741.4L460 725.4L465 733.4M423.6 733.4H403M290.2 733.4H310.3M310.3 704.6V763.8H336M336 763.8L341 771.8L351.5 755.8L362 771.8L373 755.8L378 763.8M378 763.8H403V704.6H310.3" fill="none" stroke="#000" stroke-width="2" stroke-linejoin="miter"/>
<path d="M378 622.2l10 13.5l-10 13.5M385 622.2l10 13.5l-10 13.5" fill="none" stroke="#000" stroke-width="2"/>
<path d="M347.5 691.1l10 13.5l-10 13.5M354.5 691.1l10 13.5l-10 13.5" fill="none" stroke="#000" stroke-width="2"/>
<circle cx="290.2" cy="685.3" r="6.5" fill="#000"/>
<circle cx="310.3" cy="734.2" r="6.5" fill="#000"/>
<text x="370" y="618" font-size="25"><tspan font-style="italic">C</tspan><tspan font-size="19">dl</tspan></text>
<text x="342" y="685" font-size="25"><tspan font-style="italic">C</tspan><tspan font-size="19">p</tspan></text>
<text x="205" y="720.4" font-size="25"><tspan font-style="italic">R</tspan><tspan font-size="19">s</tspan></text>
<text x="434.5" y="765" font-size="25"><tspan font-style="italic">R</tspan><tspan font-size="19">p</tspan></text>
<text x="347.5" y="795" font-size="25"><tspan font-style="italic">R</tspan><tspan font-size="19">p</tspan></text>
<text x="54.5" y="796" font-size="30" text-anchor="middle" transform="rotate(-90 54.5 796)">–Z'' (Ω)</text>
<text x="6.5" y="588.5" font-size="46" fill="#231815" textLength="24.3" lengthAdjust="spacingAndGlyphs" font-weight="bold">c</text>
</g>
<g>
<rect x="733.2" y="949.4" width="19.5" height="19.5" fill="#A31F40" stroke="#8E1B38" stroke-width="1.5"/>
<rect x="851" y="869.6" width="19.5" height="19.5" fill="#A31F40" stroke="#8E1B38" stroke-width="1.5"/>
<circle cx="743" cy="895.2" r="10.5" fill="#2E86B5" stroke="#1F6E99" stroke-width="1.8"/>
<circle cx="861.2" cy="732.9" r="10.5" fill="#2E86B5" stroke="#1F6E99" stroke-width="1.8"/>
<polygon points="743,888.2 756.2,910.8 729.8,910.8" fill="#7F8C87" stroke="#76837E" stroke-width="1"/>
<polygon points="861,733.2 874.2,755.8 847.8,755.8" fill="#7F8C87" stroke="#76837E" stroke-width="1"/>
<rect x="696.3" y="594.3" width="212.5" height="405.7" fill="none" stroke="#000" stroke-width="2.4"/>
<line x1="689.3" y1="1000" x2="696.3" y2="1000" stroke="#000" stroke-width="2"/>
<text x="684.8" y="1008.8" font-size="31" text-anchor="end">0</text>
<line x1="692.3" y1="932.4" x2="696.3" y2="932.4" stroke="#000" stroke-width="2"/>
<line x1="689.3" y1="864.8" x2="696.3" y2="864.8" stroke="#000" stroke-width="2"/>
<text x="684.8" y="873.6" font-size="31" text-anchor="end">20</text>
<line x1="692.3" y1="797.1" x2="696.3" y2="797.1" stroke="#000" stroke-width="2"/>
<line x1="689.3" y1="729.5" x2="696.3" y2="729.5" stroke="#000" stroke-width="2"/>
<text x="684.8" y="738.3" font-size="31" text-anchor="end">40</text>
<line x1="692.3" y1="661.9" x2="696.3" y2="661.9" stroke="#000" stroke-width="2"/>
<line x1="689.3" y1="594.3" x2="696.3" y2="594.3" stroke="#000" stroke-width="2"/>
<text x="684.8" y="603.1" font-size="31" text-anchor="end">60</text>
<line x1="743" y1="1000" x2="743" y2="1007" stroke="#000" stroke-width="2"/>
<text x="743" y="1035.6" font-size="29" text-anchor="middle"><tspan font-style="italic">R</tspan><tspan font-size="20">ct</tspan></text>
<line x1="860.8" y1="1000" x2="860.8" y2="1007" stroke="#000" stroke-width="2"/>
<text x="860.8" y="1035.6" font-size="29" text-anchor="middle"><tspan font-style="italic">R</tspan><tspan font-size="20">p</tspan></text>
<rect x="708" y="610.5" width="19.5" height="19.5" fill="#A31F40" stroke="#8E1B38" stroke-width="1.5"/>
<circle cx="717.8" cy="671.5" r="10.5" fill="#2E86B5" stroke="#1F6E99" stroke-width="1.8"/>
<polygon points="717.8,701 731,723.5 704.5,723.5" fill="#7F8C87" stroke="#76837E" stroke-width="1"/>
<text x="750.9" y="631.4" font-size="28.5" textLength="72" lengthAdjust="spacingAndGlyphs">PdC<tspan font-size="19" baseline-shift="-7.5">60</tspan></text>
<text x="750.9" y="682" font-size="28.5" textLength="49.5" lengthAdjust="spacingAndGlyphs">PdC</text>
<text x="750.9" y="726.2" font-size="28.5" textLength="82" lengthAdjust="spacingAndGlyphs">PdNPs</text>
<text x="638" y="797" font-size="29" text-anchor="middle" transform="rotate(-90 638 797)"><tspan font-style="italic">R</tspan> (Ω)</text>
<text x="612" y="588.2" font-size="46" fill="#231815" textLength="27.5" lengthAdjust="spacingAndGlyphs" font-weight="bold">d</text>
</g>
<g>
<rect x="1173.5" y="616.3" width="21.5" height="22.8" fill="#C8CCCC" stroke="#000" stroke-width="2.4"/>
<rect x="1173.5" y="639.1" width="21.5" height="363.3" fill="#5BA7DA" stroke="#000" stroke-width="2.4"/>
<rect x="1261.5" y="627.8" width="21.5" height="13.8" fill="#C8CCCC" stroke="#000" stroke-width="2.4"/>
<rect x="1261.5" y="641.6" width="21.5" height="360.8" fill="#5BA7DA" stroke="#000" stroke-width="2.4"/>
<rect x="1349.5" y="620.3" width="21.5" height="8" fill="#C8CCCC" stroke="#000" stroke-width="2.4"/>
<rect x="1349.5" y="628.3" width="21.5" height="374.1" fill="#5BA7DA" stroke="#000" stroke-width="2.4"/>
<rect x="1437.6" y="619.8" width="21.5" height="8.5" fill="#C8CCCC" stroke="#000" stroke-width="2.4"/>
<rect x="1437.6" y="628.3" width="21.5" height="374.1" fill="#5BA7DA" stroke="#000" stroke-width="2.4"/>
<rect x="1525.7" y="625" width="21.5" height="5.4" fill="#C8CCCC" stroke="#000" stroke-width="2.4"/>
<rect x="1525.7" y="630.4" width="21.5" height="372" fill="#5BA7DA" stroke="#000" stroke-width="2.4"/>
<rect x="1613.7" y="628.7" width="21.5" height="2.5" fill="#C8CCCC" stroke="#000" stroke-width="2.4"/>
<rect x="1613.7" y="631.2" width="21.5" height="371.2" fill="#5BA7DA" stroke="#000" stroke-width="2.4"/>
<rect x="1701.8" y="629.2" width="21.5" height="2.7" fill="#C8CCCC" stroke="#000" stroke-width="2.4"/>
<rect x="1701.8" y="631.9" width="21.5" height="370.5" fill="#5BA7DA" stroke="#000" stroke-width="2.4"/>
<rect x="1789.8" y="623.7" width="21.5" height="378.7" fill="#5BA7DA" stroke="#000" stroke-width="2.4"/>
<rect x="1877.8" y="636.6" width="21.5" height="365.8" fill="#5BA7DA" stroke="#000" stroke-width="2.4"/>
<path d="M1184.2 612.6V620.8M1180.6 612.6h7.2M1180.6 620.8h7.2" fill="none" stroke="#000" stroke-width="1.8"/>
<path d="M1184.2 628.3V649.6M1180.6 628.3h7.2M1180.6 649.6h7.2" fill="none" stroke="#000" stroke-width="1.8"/>
<path d="M1272.2 626.6V629M1268.7 626.6h7.2M1268.7 629h7.2" fill="none" stroke="#000" stroke-width="1.8"/>
<path d="M1272.2 628.8V656.6M1268.7 628.8h7.2M1268.7 656.6h7.2" fill="none" stroke="#000" stroke-width="1.8"/>
<path d="M1360.3 612.8V622.1M1356.7 612.8h7.2M1356.7 622.1h7.2" fill="none" stroke="#000" stroke-width="1.8"/>
<path d="M1360.3 622.1V643.4M1356.7 622.1h7.2M1356.7 643.4h7.2" fill="none" stroke="#000" stroke-width="1.8"/>
<path d="M1448.3 612.1V623.3M1444.8 612.1h7.2M1444.8 623.3h7.2" fill="none" stroke="#000" stroke-width="1.8"/>
<path d="M1448.3 623.3V643.9M1444.8 623.3h7.2M1444.8 643.9h7.2" fill="none" stroke="#000" stroke-width="1.8"/>
<path d="M1536.4 622.5V626.2M1532.8 622.5h7.2M1532.8 626.2h7.2" fill="none" stroke="#000" stroke-width="1.8"/>
<path d="M1536.4 626.2V638.6M1532.8 626.2h7.2M1532.8 638.6h7.2" fill="none" stroke="#000" stroke-width="1.8"/>
<path d="M1624.5 620V644.8M1620.9 620h7.2M1620.9 644.8h7.2" fill="none" stroke="#000" stroke-width="1.8"/>
<path d="M1712.5 627.4V630.6M1708.9 627.4h7.2M1708.9 630.6h7.2" fill="none" stroke="#000" stroke-width="1.8"/>
<path d="M1712.5 628.6V637.9M1708.9 628.6h7.2M1708.9 637.9h7.2" fill="none" stroke="#000" stroke-width="1.8"/>
<path d="M1800.6 600.9V647.8M1797 600.9h7.2M1797 647.8h7.2" fill="none" stroke="#000" stroke-width="1.8"/>
<path d="M1888.6 629.4V645.6M1885 629.4h7.2M1885 645.6h7.2" fill="none" stroke="#000" stroke-width="1.8"/>
<rect x="1139.6" y="594.3" width="792.8" height="408.1" fill="none" stroke="#4A4F52" stroke-width="2.8"/>
<text x="1131.6" y="1011.2" font-size="32" text-anchor="end">0</text>
<line x1="1140.6" y1="909.6" x2="1146.6" y2="909.6" stroke="#000" stroke-width="2.2"/>
<text x="1131.6" y="918.4" font-size="32" text-anchor="end">25</text>
<line x1="1140.6" y1="816.9" x2="1146.6" y2="816.9" stroke="#000" stroke-width="2.2"/>
<text x="1131.6" y="825.7" font-size="32" text-anchor="end">50</text>
<line x1="1140.6" y1="724.1" x2="1146.6" y2="724.1" stroke="#000" stroke-width="2.2"/>
<text x="1131.6" y="732.9" font-size="32" text-anchor="end">75</text>
<line x1="1140.6" y1="631.4" x2="1146.6" y2="631.4" stroke="#000" stroke-width="2.2"/>
<text x="1131.6" y="640.2" font-size="32" text-anchor="end">100</text>
<text x="1939.9" y="1011" font-size="32" fill="#53575A">1.0</text>
<line x1="1928.4" y1="900.4" x2="1932.4" y2="900.4" stroke="#4A4F52" stroke-width="2"/>
<text x="1939.9" y="806.9" font-size="32" fill="#53575A">1.5</text>
<line x1="1925.4" y1="798.3" x2="1932.4" y2="798.3" stroke="#4A4F52" stroke-width="2"/>
<line x1="1928.4" y1="696.3" x2="1932.4" y2="696.3" stroke="#4A4F52" stroke-width="2"/>
<text x="1939.9" y="602.9" font-size="32" fill="#53575A">2.0</text>
<text x="1184.2" y="1035" font-size="32" text-anchor="middle">25</text>
<text x="1272.2" y="1035" font-size="32" text-anchor="middle">50</text>
<text x="1360.3" y="1035" font-size="32" text-anchor="middle">75</text>
<text x="1448.3" y="1035" font-size="32" text-anchor="middle">100</text>
<text x="1536.4" y="1035" font-size="32" text-anchor="middle">125</text>
<text x="1624.5" y="1035" font-size="32" text-anchor="middle">150</text>
<text x="1712.5" y="1035" font-size="32" text-anchor="middle">175</text>
<text x="1800.6" y="1035" font-size="32" text-anchor="middle">200</text>
<text x="1888.6" y="1035" font-size="32" text-anchor="middle">250</text>
<path d="M1184.2 851.3V870.9M1180.6 851.3h7.2M1180.6 870.9h7.2" fill="none" stroke="#4F5356" stroke-width="2"/>
<circle cx="1184.2" cy="861.4" r="7.4" fill="#fff" stroke="#4F5356" stroke-width="2.5"/>
<path d="M1272.2 799.4V823M1268.7 799.4h7.2M1268.7 823h7.2" fill="none" stroke="#4F5356" stroke-width="2"/>
<circle cx="1272.2" cy="811.2" r="7.4" fill="#fff" stroke="#4F5356" stroke-width="2.5"/>
<path d="M1360.3 768V792.4M1356.7 768h7.2M1356.7 792.4h7.2" fill="none" stroke="#4F5356" stroke-width="2"/>
<circle cx="1360.3" cy="780.1" r="7.4" fill="#fff" stroke="#4F5356" stroke-width="2.5"/>
<path d="M1448.3 733.7V805M1444.8 733.7h7.2M1444.8 805h7.2" fill="none" stroke="#4F5356" stroke-width="2"/>
<circle cx="1448.3" cy="769.3" r="7.4" fill="#fff" stroke="#4F5356" stroke-width="2.5"/>
<path d="M1536.4 721.9V795.6M1532.8 721.9h7.2M1532.8 795.6h7.2" fill="none" stroke="#4F5356" stroke-width="2"/>
<circle cx="1536.4" cy="758.4" r="7.4" fill="#fff" stroke="#4F5356" stroke-width="2.5"/>
<path d="M1624.5 730.6V759.6M1620.9 730.6h7.2M1620.9 759.6h7.2" fill="none" stroke="#4F5356" stroke-width="2"/>
<circle cx="1624.5" cy="745.2" r="7.4" fill="#fff" stroke="#4F5356" stroke-width="2.5"/>
<path d="M1712.5 712.6V722.4M1708.9 712.6h7.2M1708.9 722.4h7.2" fill="none" stroke="#4F5356" stroke-width="2"/>
<circle cx="1712.5" cy="717.6" r="7.4" fill="#fff" stroke="#4F5356" stroke-width="2.5"/>
<path d="M1709.3 712.6h6.4M1709.3 722.4h6.4" fill="none" stroke="#4F5356" stroke-width="1.6"/>
<path d="M1800.6 712.6V722.4M1797 712.6h7.2M1797 722.4h7.2" fill="none" stroke="#4F5356" stroke-width="2"/>
<circle cx="1800.6" cy="717.6" r="7.4" fill="#fff" stroke="#4F5356" stroke-width="2.5"/>
<path d="M1797.4 712.6h6.4M1797.4 722.4h6.4" fill="none" stroke="#4F5356" stroke-width="1.6"/>
<circle cx="1888.6" cy="711.2" r="7.4" fill="#fff" stroke="#4F5356" stroke-width="2.5"/>
<line x1="1897.1" y1="710.5" x2="1919.4" y2="710.5" stroke="#4A4F52" stroke-width="2.3"/>
<polygon points="1926,710.5 1915,702.6 1918.1,710.5 1915,718.4" fill="#4A4F52"/>
<text x="1066" y="797" font-size="29" text-anchor="middle" transform="rotate(-90 1066 797)">FE %</text>
<text x="2019" y="797.8" font-size="31" text-anchor="middle" fill="#595959" transform="rotate(-90 2019 797.8)" textLength="210.5" lengthAdjust="spacingAndGlyphs">Cell voltage (V)</text>
<text x="1534.6" y="1089.5" font-size="29" text-anchor="middle" textLength="159.6" lengthAdjust="spacingAndGlyphs"><tspan font-style="italic">j</tspan> (mA cm<tspan font-size="19" baseline-shift="11">−2</tspan>)</text>
<rect x="1141.7" y="553.4" width="42.6" height="28.6" fill="#C8CCCC" stroke="#111" stroke-width="2.4"/>
<text x="1192.2" y="578.6" font-size="27.5" textLength="27.5" lengthAdjust="spacingAndGlyphs">H<tspan font-size="18.5" baseline-shift="-8">2</tspan></text>
<rect x="1233.7" y="553.4" width="42.6" height="28.6" fill="#5BA7DA" stroke="#111" stroke-width="2.4"/>
<text x="1283.6" y="578.6" font-size="27.5" textLength="85" lengthAdjust="spacingAndGlyphs">HCOO<tspan font-size="18" baseline-shift="12">−</tspan></text>
<text x="1055" y="588.5" font-size="46" fill="#231815" textLength="25.6" lengthAdjust="spacingAndGlyphs" font-weight="bold">e</text>
</g>
<g>
<rect x="683.3" y="1129.4" width="224.7" height="409.6" fill="#DDE9F2"/>
<line x1="683.3" y1="1129.4" x2="683.3" y2="1539" stroke="#8A8A8A" stroke-width="1.6" stroke-dasharray="8 5"/>
<clipPath id="cf"><rect x="115.1" y="1129.4" width="792.9" height="409.6"/></clipPath>
<path d="M177.2 1121.5L178 1137.2L182.5 1156.4L188.5 1180.2L190 1197.8L192.5 1217.8L195 1242.9L201.8 1305.5L203.5 1375.5L205.5 1502" fill="none" stroke="#76A796" stroke-width="2"/>
<polygon points="163.8,1127.7 192.2,1127.7 178,1152" fill="#76A796" clip-path="url(#cf)"/>
<polygon points="168.3,1146.9 196.7,1146.9 182.5,1171.2" fill="#76A796"/>
<polygon points="174.3,1170.7 202.7,1170.7 188.5,1195" fill="#76A796"/>
<polygon points="175.8,1188.3 204.2,1188.3 190,1212.6" fill="#76A796"/>
<polygon points="178.3,1208.3 206.7,1208.3 192.5,1232.6" fill="#76A796"/>
<polygon points="180.8,1233.4 209.2,1233.4 195,1257.7" fill="#76A796"/>
<polygon points="187.7,1296 216,1296 201.8,1320.3" fill="#76A796"/>
<polygon points="189.3,1366 217.7,1366 203.5,1390.3" fill="#76A796"/>
<polygon points="191.3,1492.5 219.7,1492.5 205.5,1516.8" fill="#76A796"/>
<path d="M171.7 1309.3L175.4 1308.2L180.3 1306.6L186.2 1304.8L192.7 1302.8L199.6 1300.7L206.7 1298.6L213.6 1296.7L220 1295L226.2 1293.5L232.4 1292L238.6 1290.5L244.9 1289.1L251.2 1287.8L257.5 1286.6L263.7 1285.5L270 1284.5L276.4 1283.6L282.9 1282.8L289.4 1282.1L295.9 1281.5L302.3 1281L308.6 1280.7L314.5 1280.5L320 1280.5L325.1 1280.7L329.9 1281L334.4 1281.4L338.8 1282.1L342.9 1282.8L347 1283.7L351 1284.8L355 1286L359.1 1287.4L363.2 1289L367.2 1290.8L371.1 1292.7L374.9 1294.7L378.5 1296.7L381.9 1298.9L385 1301L387.8 1303.2L390.3 1305.5L392.7 1307.9L394.8 1310.4L396.7 1312.9L398.6 1315.3L400.3 1317.7L402 1320L403.5 1322.1L404.9 1324.1L406.1 1326L407.2 1327.9L408.3 1329.8L409.3 1331.9L410.4 1334.3L411.5 1336.9L412.7 1339.8L413.9 1343L415.1 1346.4L416.2 1349.9L417.4 1353.6L418.6 1357.3L419.8 1361.1L421 1365L422.3 1369.2L423.6 1373.8L425 1378.7L426.4 1383.7L427.7 1388.4L428.9 1392.6L429.9 1396.2L430.6 1398.8" fill="none" stroke="#8878A8" stroke-width="2"/>
<polygon points="171.7,1296.3 183,1302.8 183,1315.8 171.7,1322.3 160.4,1315.8 160.4,1302.8" fill="#8878A8"/>
<polygon points="270,1269.5 281.3,1276 281.3,1289 270,1295.5 258.7,1289 258.7,1276" fill="#8878A8"/>
<polygon points="379,1269.5 390.3,1276 390.3,1289 379,1295.5 367.7,1289 367.7,1276" fill="#8878A8"/>
<polygon points="411.5,1323.9 422.8,1330.4 422.8,1343.4 411.5,1349.9 400.2,1343.4 400.2,1330.4" fill="#8878A8"/>
<polygon points="430.6,1385.8 441.9,1392.3 441.9,1405.3 430.6,1411.8 419.3,1405.3 419.3,1392.3" fill="#8878A8"/>
<path d="M340.9 1280.5L341.8 1281.1L343 1281.8L344.4 1282.7L346 1283.6L347.6 1284.7L349.2 1285.8L350.7 1286.9L352 1288L353.1 1289L354.2 1289.8L355.2 1290.6L356.2 1291.5L357.1 1292.5L358 1293.9L358.8 1295.7L359.6 1298L360.3 1300.9L360.9 1304.3L361.4 1308.1L361.8 1312.2L362.3 1316.6L362.8 1321L363.3 1325.5L364 1330L364.8 1334.8L365.7 1340.1L366.7 1345.7L367.8 1351.2L368.8 1356.6L369.7 1361.4L370.4 1365.5L371 1368.5" fill="none" stroke="#52639A" stroke-width="2"/>
<polygon points="340.9,1266.5 354.9,1280.5 340.9,1294.5 326.9,1280.5" fill="#52639A"/>
<polygon points="359.6,1284 373.6,1298 359.6,1312 345.6,1298" fill="#52639A"/>
<polygon points="371,1354.5 385,1368.5 371,1382.5 357,1368.5" fill="#52639A"/>
<path d="M391 1215.3L393.5 1346.9" fill="none" stroke="#4E9A68" stroke-width="2"/>
<polygon points="391,1203.1 403.6,1212.2 398.8,1227 383.2,1227 378.4,1212.2" fill="#4E9A68"/>
<polygon points="393.5,1334.7 406.1,1343.8 401.3,1358.6 385.7,1358.6 380.9,1343.8" fill="#4E9A68"/>
<path d="M448.6 1288L450.9 1289.5L453.9 1291.3L457.6 1293.5L461.6 1296L465.9 1298.7L470 1301.6L473.9 1304.8L477.4 1308L480.5 1311.4L483.5 1315.1L486.3 1319L489 1323.1L491.7 1327.4L494.2 1331.7L496.7 1336.1L499 1340.6L501.1 1345.1L503 1349.8L504.6 1354.5L506.2 1359.3L507.9 1364.2L509.7 1369.2L511.8 1374.2L514.3 1379.3L517.4 1384.3L521 1389.3L524.9 1394.2L528.9 1399.3L533 1404.5L536.7 1409.9L540 1415.7L542.7 1421.9L544.7 1429L546.4 1437.1L547.6 1445.8L548.6 1454.6L549.3 1463.1L549.9 1470.8L550.4 1477.2L550.9 1482" fill="none" stroke="#6B7F78" stroke-width="2"/>
<polygon points="434.9,1298.1 462.4,1298.1 448.6,1274.1" fill="#6B7F78"/>
<polygon points="463.6,1318.1 491.1,1318.1 477.4,1294.1" fill="#6B7F78"/>
<polygon points="485.2,1350.7 512.8,1350.7 499,1326.7" fill="#6B7F78"/>
<polygon points="500.5,1389.4 528,1389.4 514.3,1365.4" fill="#6B7F78"/>
<polygon points="529,1432 556.5,1432 542.7,1408" fill="#6B7F78"/>
<polygon points="537.1,1492.1 564.6,1492.1 550.9,1468.1" fill="#6B7F78"/>
<path d="M521.4 1289.7L524.1 1290.9L527.7 1292.5L532.1 1294.4L536.9 1296.5L541.8 1298.8L546.7 1301L551.2 1303.1L555 1305L558.3 1306.7L561.5 1308.4L564.5 1310.1L567.3 1311.7L569.8 1313.3L572.1 1314.9L574.2 1316.4L576 1318L577.5 1319.5L578.6 1321L579.4 1322.4L580 1323.9L580.4 1325.3L580.8 1326.8L581.1 1328.4L581.5 1330L581.8 1331.7L582 1333.5L582 1335.3L582 1337.1L582 1339L582.1 1341L582.2 1343L582.5 1345L582.9 1347.1L583.3 1349.4L583.7 1351.7L584.3 1354.1L584.9 1356.4L585.7 1358.7L586.6 1360.9L587.8 1363L589.2 1365L590.9 1366.9L592.8 1368.7L594.8 1370.5L596.9 1372.2L599 1373.9L601.1 1375.5L603 1377L604.8 1378.3L606.7 1379.3L608.5 1380.2L610.3 1381L612.1 1382L613.8 1383.2L615.5 1384.7L617.1 1386.8L618.6 1389.4L620.1 1392.4L621.5 1395.7L622.9 1399.3L624.3 1403.1L625.5 1407L626.8 1411L628 1415L629.2 1419.3L630.4 1424.2L631.6 1429.4L632.7 1434.6L633.8 1439.6L634.7 1444.1L635.5 1447.9L636.1 1450.7" fill="none" stroke="#6A8FC0" stroke-width="2"/>
<circle cx="521.4" cy="1289.7" r="11.5" fill="#6A8FC0"/>
<circle cx="587.8" cy="1324.8" r="11.5" fill="#6A8FC0"/>
<circle cx="577" cy="1354.9" r="11.5" fill="#6A8FC0"/>
<circle cx="617.1" cy="1386.8" r="11.5" fill="#6A8FC0"/>
<circle cx="636.1" cy="1450.7" r="11.5" fill="#6A8FC0"/>
<path d="M683.5 1252.2L684.4 1253.6L685.6 1255.5L687.1 1257.8L688.7 1260.3L690.4 1262.9L692.2 1265.6L693.9 1268.1L695.5 1270.5L697 1272.8L698.6 1275.1L700.1 1277.5L701.7 1279.8L703.3 1282L704.9 1284.2L706.4 1286.2L708 1288L709.5 1289.6L711 1290.9L712.5 1292L714 1293.1L715.5 1294.2L717.1 1295.3L718.8 1296.5L720.6 1298L722.5 1299.7L724.6 1301.4L726.7 1303.3L729 1305.2L731.2 1307.3L733.4 1309.4L735.6 1311.6L737.6 1313.8L739.6 1316.1L741.6 1318.5L743.5 1321L745.4 1323.5L747.3 1326.1L749.1 1328.8L750.8 1331.6L752.4 1334.4L753.9 1337.3L755.4 1340.4L756.9 1343.6L758.2 1346.9L759.5 1350.2L760.7 1353.4L761.7 1356.5L762.7 1359.4L763.5 1362.2L764.2 1365L764.7 1367.7L765.2 1370.3L765.6 1372.8L766 1375.3L766.5 1377.7L767 1380L767.4 1382.1L767.7 1383.9L767.8 1385.6L768 1387.2L768.4 1388.9L769.1 1390.8L770.3 1393L772 1395.6L774.3 1398.7L777.2 1402.1L780.4 1405.9L784 1409.8L787.8 1413.9L791.8 1418L795.9 1422L800 1426L804.5 1430.1L809.5 1434.6L814.9 1439.2L820.3 1443.8L825.5 1448.1L830.2 1452L834.2 1455.2L837.1 1457.7" fill="none" stroke="#7E1620" stroke-width="2"/>
<polygon points="683.5,1237.7 698,1252.2 683.5,1266.7 669,1252.2" fill="#7E1620"/>
<polygon points="695.5,1256 710,1270.5 695.5,1285 681,1270.5" fill="#7E1620"/>
<polygon points="696,1271 710.5,1285.5 696,1300 681.5,1285.5" fill="#7E1620"/>
<polygon points="720.6,1283.5 735.1,1298 720.6,1312.5 706.1,1298" fill="#7E1620"/>
<polygon points="737.6,1299.3 752.1,1313.8 737.6,1328.3 723.1,1313.8" fill="#7E1620"/>
<polygon points="752.4,1319.9 766.9,1334.4 752.4,1348.9 737.9,1334.4" fill="#7E1620"/>
<polygon points="762.7,1344.9 777.2,1359.4 762.7,1373.9 748.2,1359.4" fill="#7E1620"/>
<polygon points="772,1381.1 786.5,1395.6 772,1410.1 757.5,1395.6" fill="#7E1620"/>
<polygon points="837.1,1443.2 851.6,1457.7 837.1,1472.2 822.6,1457.7" fill="#7E1620"/>
<rect x="115.1" y="1129.4" width="792.9" height="409.6" fill="none" stroke="#000" stroke-width="2.4"/>
<line x1="115.1" y1="1477.3" x2="119.1" y2="1477.3" stroke="#000" stroke-width="2"/>
<line x1="115.1" y1="1441.3" x2="119.1" y2="1441.3" stroke="#000" stroke-width="2"/>
<line x1="115.1" y1="1415.7" x2="119.1" y2="1415.7" stroke="#000" stroke-width="2"/>
<line x1="115.1" y1="1395.9" x2="119.1" y2="1395.9" stroke="#000" stroke-width="2"/>
<line x1="115.1" y1="1379.6" x2="119.1" y2="1379.6" stroke="#000" stroke-width="2"/>
<line x1="115.1" y1="1365.9" x2="119.1" y2="1365.9" stroke="#000" stroke-width="2"/>
<line x1="115.1" y1="1354" x2="119.1" y2="1354" stroke="#000" stroke-width="2"/>
<line x1="115.1" y1="1343.6" x2="119.1" y2="1343.6" stroke="#000" stroke-width="2"/>
<line x1="115.1" y1="1272.5" x2="119.1" y2="1272.5" stroke="#000" stroke-width="2"/>
<line x1="115.1" y1="1236.5" x2="119.1" y2="1236.5" stroke="#000" stroke-width="2"/>
<line x1="115.1" y1="1210.9" x2="119.1" y2="1210.9" stroke="#000" stroke-width="2"/>
<line x1="115.1" y1="1191.1" x2="119.1" y2="1191.1" stroke="#000" stroke-width="2"/>
<line x1="115.1" y1="1174.8" x2="119.1" y2="1174.8" stroke="#000" stroke-width="2"/>
<line x1="115.1" y1="1161.1" x2="119.1" y2="1161.1" stroke="#000" stroke-width="2"/>
<line x1="115.1" y1="1149.2" x2="119.1" y2="1149.2" stroke="#000" stroke-width="2"/>
<line x1="115.1" y1="1138.8" x2="119.1" y2="1138.8" stroke="#000" stroke-width="2"/>
<text x="108.8" y="1546.6" font-size="30.5" text-anchor="end" textLength="32.5" lengthAdjust="spacingAndGlyphs">10</text>
<line x1="115.1" y1="1334.2" x2="122.1" y2="1334.2" stroke="#000" stroke-width="2"/>
<text x="108.8" y="1343.2" font-size="30.5" text-anchor="end" textLength="48.5" lengthAdjust="spacingAndGlyphs">100</text>
<text x="108.8" y="1138.4" font-size="30.5" text-anchor="end" textLength="64.5" lengthAdjust="spacingAndGlyphs">1000</text>
<line x1="115.1" y1="1539" x2="115.1" y2="1546" stroke="#000" stroke-width="2"/>
<text x="115.9" y="1573.2" font-size="29.5" text-anchor="middle">0</text>
<line x1="194.4" y1="1539" x2="194.4" y2="1543" stroke="#000" stroke-width="2"/>
<line x1="273.7" y1="1539" x2="273.7" y2="1546" stroke="#000" stroke-width="2"/>
<text x="274.5" y="1573.2" font-size="29.5" text-anchor="middle">20</text>
<line x1="353" y1="1539" x2="353" y2="1543" stroke="#000" stroke-width="2"/>
<line x1="432.3" y1="1539" x2="432.3" y2="1546" stroke="#000" stroke-width="2"/>
<text x="433.1" y="1573.2" font-size="29.5" text-anchor="middle">40</text>
<line x1="511.5" y1="1539" x2="511.5" y2="1543" stroke="#000" stroke-width="2"/>
<line x1="590.8" y1="1539" x2="590.8" y2="1546" stroke="#000" stroke-width="2"/>
<text x="591.6" y="1573.2" font-size="29.5" text-anchor="middle">60</text>
<line x1="670.1" y1="1539" x2="670.1" y2="1543" stroke="#000" stroke-width="2"/>
<line x1="749.4" y1="1539" x2="749.4" y2="1546" stroke="#000" stroke-width="2"/>
<text x="750.2" y="1573.2" font-size="29.5" text-anchor="middle">80</text>
<line x1="828.7" y1="1539" x2="828.7" y2="1543" stroke="#000" stroke-width="2"/>
<line x1="908" y1="1539" x2="908" y2="1546" stroke="#000" stroke-width="2"/>
<text x="908.8" y="1573.2" font-size="29.5" text-anchor="middle">100</text>
<text x="697.5" y="1164.9" font-size="27.5" textLength="73.7" lengthAdjust="spacingAndGlyphs">&gt; 72%</text>
<text x="220" y="1437" font-size="28.5" fill="#5FA777" textLength="51.4" lengthAdjust="spacingAndGlyphs">r-Pb</text>
<text x="232.6" y="1235.9" font-size="28.5" fill="#8878A8" textLength="82.7" lengthAdjust="spacingAndGlyphs">Cu<tspan font-size="19.5" baseline-shift="-8">6</tspan>Sn<tspan font-size="19.5" baseline-shift="-8">5</tspan></text>
<text x="340.4" y="1405.6" font-size="28.5" fill="#52639A" textLength="64.4" lengthAdjust="spacingAndGlyphs">Bi<tspan font-size="19.5" baseline-shift="-8">2</tspan>O<tspan font-size="19.5" baseline-shift="-8">3</tspan></text>
<text x="353.9" y="1169.7" font-size="28.5" fill="#4E9A68" textLength="73.9" lengthAdjust="spacingAndGlyphs">Pb<tspan font-size="19.5" baseline-shift="-8">1</tspan>Cu</text>
<text x="464.4" y="1464.5" font-size="28.5" fill="#6B7F78" textLength="66.5" lengthAdjust="spacingAndGlyphs">2D-Bi</text>
<text x="536.4" y="1248.6" font-size="28.5" fill="#6A8FC0" textLength="78.2" lengthAdjust="spacingAndGlyphs">Bi<tspan font-size="19.5" baseline-shift="-8">0.1</tspan>Sn</text>
<text x="764.5" y="1263.7" font-size="26.5" fill="#7E1620" textLength="60.9" lengthAdjust="spacingAndGlyphs">PdC<tspan font-size="18.5" baseline-shift="-8">60</tspan></text>
<text x="764.5" y="1306.8" font-size="26.5" fill="#7E1620" textLength="121.5" lengthAdjust="spacingAndGlyphs">(This work)</text>
<text x="512" y="1621" font-size="28.5" text-anchor="middle" textLength="189.5" lengthAdjust="spacingAndGlyphs">Full-Cell EE (%)</text>
<text x="27.5" y="1336.8" font-size="30" text-anchor="middle" transform="rotate(-90 27.5 1336.8)" textLength="338" lengthAdjust="spacingAndGlyphs"><tspan font-style="italic">j</tspan><tspan font-size="20" baseline-shift="-7">Formate/Formic acid</tspan> (mA cm<tspan font-size="19" baseline-shift="11">−2</tspan>)</text>
<text x="7" y="1139.2" font-size="46" fill="#231815" textLength="14.5" lengthAdjust="spacingAndGlyphs" font-weight="bold">f</text>
</g>
<g>
<g fill="#fff" fill-opacity="0.85" stroke="#808080" stroke-width="2">
<path d="M1148.9 1466l11 11l-11 11l-11 -11z"/>
<path d="M1153.6 1437.7l11 11l-11 11l-11 -11z"/>
<path d="M1159.1 1460.5l11 11l-11 11l-11 -11z"/>
<path d="M1165.4 1449.5l11 11l-11 11l-11 -11z"/>
<path d="M1169.3 1426.7l11 11l-11 11l-11 -11z"/>
<path d="M1174.8 1429.9l11 11l-11 11l-11 -11z"/>
<path d="M1181.9 1433.8l11 11l-11 11l-11 -11z"/>
<path d="M1197.6 1436.2l11 11l-11 11l-11 -11z"/>
<path d="M1203.9 1440.9l11 11l-11 11l-11 -11z"/>
<path d="M1210.2 1445.6l11 11l-11 11l-11 -11z"/>
<path d="M1215.7 1437.7l11 11l-11 11l-11 -11z"/>
<path d="M1222 1442.5l11 11l-11 11l-11 -11z"/>
<path d="M1213.3 1462.1l11 11l-11 11l-11 -11z"/>
<path d="M1224.3 1469.2l11 11l-11 11l-11 -11z"/>
<path d="M1229.8 1466l11 11l-11 11l-11 -11z"/>
<path d="M1225.9 1489.6l11 11l-11 11l-11 -11z"/>
<path d="M1236.9 1491.2l11 11l-11 11l-11 -11z"/>
<path d="M1230.6 1504.6l11 11l-11 11l-11 -11z"/>
<path d="M1240.1 1505.4l11 11l-11 11l-11 -11z"/>
<path d="M1251.1 1513.2l11 11l-11 11l-11 -11z"/>
<path d="M1258.9 1505.4l11 11l-11 11l-11 -11z"/>
<path d="M1263.6 1510.1l11 11l-11 11l-11 -11z"/>
<path d="M1275.4 1494.3l11 11l-11 11l-11 -11z"/>
<path d="M1290.4 1491.2l11 11l-11 11l-11 -11z"/>
<path d="M1295.1 1498.3l11 11l-11 11l-11 -11z"/>
<path d="M1303.7 1483.3l11 11l-11 11l-11 -11z"/>
<path d="M1309.2 1491.2l11 11l-11 11l-11 -11z"/>
<path d="M1313.2 1483.3l11 11l-11 11l-11 -11z"/>
<path d="M1317.9 1489.6l11 11l-11 11l-11 -11z"/>
<path d="M1322.6 1492.8l11 11l-11 11l-11 -11z"/>
<path d="M1328.1 1497.5l11 11l-11 11l-11 -11z"/>
<path d="M1325 1521.1l11 11l-11 11l-11 -11z"/>
<path d="M1330.5 1524.2l11 11l-11 11l-11 -11z"/>
</g>
<clipPath id="cg"><rect x="1139.8" y="1129.6" width="792.2" height="406.3"/></clipPath>
<g fill="#fff" stroke="#1565B0" stroke-width="2.5" clip-path="url(#cg)">
<circle cx="1152.8" cy="1306.7" r="8.55"/>
<circle cx="1157.4" cy="1313.6" r="8.55"/>
<circle cx="1162.1" cy="1309.4" r="8.55"/>
<circle cx="1166.8" cy="1309.4" r="8.55"/>
<circle cx="1171.4" cy="1309.4" r="8.55"/>
<circle cx="1176.1" cy="1309.3" r="8.55"/>
<circle cx="1180.7" cy="1309.3" r="8.55"/>
<circle cx="1185.4" cy="1309.3" r="8.55"/>
<circle cx="1190" cy="1309.3" r="8.55"/>
<circle cx="1194.7" cy="1309.2" r="8.55"/>
<circle cx="1199.3" cy="1309.2" r="8.55"/>
<circle cx="1204" cy="1309.2" r="8.55"/>
<circle cx="1208.6" cy="1309.2" r="8.55"/>
<circle cx="1213.3" cy="1309.2" r="8.55"/>
<circle cx="1218" cy="1309.1" r="8.55"/>
<circle cx="1222.6" cy="1309.1" r="8.55"/>
<circle cx="1227.3" cy="1309.1" r="8.55"/>
<circle cx="1231.9" cy="1309.1" r="8.55"/>
<circle cx="1236.6" cy="1309" r="8.55"/>
<circle cx="1241.2" cy="1309" r="8.55"/>
<circle cx="1245.9" cy="1309" r="8.55"/>
<circle cx="1250.5" cy="1309" r="8.55"/>
<circle cx="1255.2" cy="1309" r="8.55"/>
<circle cx="1259.9" cy="1308.9" r="8.55"/>
<circle cx="1264.5" cy="1308.9" r="8.55"/>
<circle cx="1269.2" cy="1308.9" r="8.55"/>
<circle cx="1273.8" cy="1308.9" r="8.55"/>
<circle cx="1278.5" cy="1308.8" r="8.55"/>
<circle cx="1283.1" cy="1308.8" r="8.55"/>
<circle cx="1287.8" cy="1308.8" r="8.55"/>
<circle cx="1292.4" cy="1308.8" r="8.55"/>
<circle cx="1297.1" cy="1308.8" r="8.55"/>
<circle cx="1301.7" cy="1308.7" r="8.55"/>
<circle cx="1306.4" cy="1308.7" r="8.55"/>
<circle cx="1311.1" cy="1308.7" r="8.55"/>
<circle cx="1315.7" cy="1308.7" r="8.55"/>
<circle cx="1320.4" cy="1308.6" r="8.55"/>
<circle cx="1325" cy="1308.6" r="8.55"/>
<circle cx="1329.7" cy="1308.6" r="8.55"/>
<circle cx="1334.3" cy="1308.6" r="8.55"/>
<circle cx="1339" cy="1308.5" r="8.55"/>
<circle cx="1343.6" cy="1308.5" r="8.55"/>
<circle cx="1348.3" cy="1308.5" r="8.55"/>
<circle cx="1353" cy="1308.5" r="8.55"/>
<circle cx="1357.6" cy="1308.5" r="8.55"/>
<circle cx="1362.3" cy="1308.4" r="8.55"/>
<circle cx="1366.9" cy="1308.4" r="8.55"/>
<circle cx="1371.6" cy="1308.4" r="8.55"/>
<circle cx="1376.2" cy="1308.4" r="8.55"/>
<circle cx="1380.9" cy="1308.3" r="8.55"/>
<circle cx="1385.5" cy="1308.3" r="8.55"/>
<circle cx="1390.2" cy="1307.8" r="8.55"/>
<circle cx="1392.6" cy="1318.5" r="8.55"/>
<circle cx="1399.5" cy="1307.8" r="8.55"/>
<circle cx="1404.2" cy="1307.8" r="8.55"/>
<circle cx="1408.8" cy="1307.8" r="8.55"/>
<circle cx="1413.5" cy="1307.8" r="8.55"/>
<circle cx="1418.1" cy="1307.8" r="8.55"/>
<circle cx="1422.8" cy="1307.8" r="8.55"/>
<circle cx="1427.4" cy="1307.8" r="8.55"/>
<circle cx="1432.1" cy="1307.8" r="8.55"/>
<circle cx="1436.7" cy="1307.8" r="8.55"/>
<circle cx="1441.4" cy="1307.8" r="8.55"/>
<circle cx="1446.1" cy="1317.6" r="8.55"/>
<circle cx="1450.7" cy="1317.6" r="8.55"/>
<circle cx="1455.4" cy="1317.6" r="8.55"/>
<circle cx="1460" cy="1317.6" r="8.55"/>
<circle cx="1464.7" cy="1317.6" r="8.55"/>
<circle cx="1469.3" cy="1317.6" r="8.55"/>
<circle cx="1474" cy="1317.6" r="8.55"/>
<circle cx="1478.6" cy="1317.6" r="8.55"/>
<circle cx="1483.3" cy="1317.6" r="8.55"/>
<circle cx="1487.9" cy="1317.6" r="8.55"/>
<circle cx="1492.6" cy="1317.6" r="8.55"/>
<circle cx="1497.3" cy="1317.6" r="8.55"/>
<circle cx="1501.9" cy="1317.6" r="8.55"/>
<circle cx="1506.6" cy="1317.6" r="8.55"/>
<circle cx="1511.2" cy="1317.6" r="8.55"/>
<circle cx="1515.9" cy="1317.6" r="8.55"/>
<circle cx="1520.5" cy="1317.6" r="8.55"/>
<circle cx="1525.2" cy="1317.6" r="8.55"/>
<circle cx="1529.8" cy="1317.6" r="8.55"/>
<circle cx="1534.5" cy="1317.6" r="8.55"/>
<circle cx="1539.2" cy="1317.6" r="8.55"/>
<circle cx="1543.8" cy="1317.6" r="8.55"/>
<circle cx="1548.5" cy="1317.6" r="8.55"/>
<circle cx="1553.1" cy="1317.6" r="8.55"/>
<circle cx="1557.8" cy="1317.6" r="8.55"/>
<circle cx="1562.4" cy="1317.6" r="8.55"/>
<circle cx="1567.1" cy="1317.6" r="8.55"/>
<circle cx="1571.7" cy="1317.6" r="8.55"/>
<circle cx="1576.4" cy="1317.6" r="8.55"/>
<circle cx="1581" cy="1317.6" r="8.55"/>
<circle cx="1585.7" cy="1317.6" r="8.55"/>
<circle cx="1590.4" cy="1317.6" r="8.55"/>
<circle cx="1595" cy="1317.6" r="8.55"/>
<circle cx="1599.7" cy="1317.6" r="8.55"/>
<circle cx="1604.3" cy="1317.6" r="8.55"/>
<circle cx="1609" cy="1317.6" r="8.55"/>
<circle cx="1613.6" cy="1317.6" r="8.55"/>
<circle cx="1618.3" cy="1317.6" r="8.55"/>
<circle cx="1622.9" cy="1317.6" r="8.55"/>
<circle cx="1627.6" cy="1317.6" r="8.55"/>
<circle cx="1632.3" cy="1317.6" r="8.55"/>
<circle cx="1636.9" cy="1317.6" r="8.55"/>
<circle cx="1641.6" cy="1317.6" r="8.55"/>
<circle cx="1646.2" cy="1317.6" r="8.55"/>
<circle cx="1650.9" cy="1317.6" r="8.55"/>
<circle cx="1655.5" cy="1317.6" r="8.55"/>
<circle cx="1660.2" cy="1317.6" r="8.55"/>
<circle cx="1664.8" cy="1317.6" r="8.55"/>
<circle cx="1669.5" cy="1317.6" r="8.55"/>
<circle cx="1674.1" cy="1315.8" r="8.55"/>
<circle cx="1678.8" cy="1315.9" r="8.55"/>
<circle cx="1683.5" cy="1315.9" r="8.55"/>
<circle cx="1688.1" cy="1315.9" r="8.55"/>
<circle cx="1692.8" cy="1316" r="8.55"/>
<circle cx="1697.4" cy="1316" r="8.55"/>
<circle cx="1702.1" cy="1316.1" r="8.55"/>
<circle cx="1706.7" cy="1316.1" r="8.55"/>
<circle cx="1711.4" cy="1316.2" r="8.55"/>
<circle cx="1716" cy="1316.2" r="8.55"/>
<circle cx="1720.7" cy="1316.2" r="8.55"/>
<circle cx="1725.4" cy="1316.3" r="8.55"/>
<circle cx="1730" cy="1316.3" r="8.55"/>
<circle cx="1734.7" cy="1316.4" r="8.55"/>
<circle cx="1739.3" cy="1316.4" r="8.55"/>
<circle cx="1744" cy="1316.5" r="8.55"/>
<circle cx="1748.6" cy="1316.5" r="8.55"/>
<circle cx="1753.3" cy="1316.5" r="8.55"/>
<circle cx="1757.5" cy="1318" r="8.55"/>
<circle cx="1762.6" cy="1312" r="8.55"/>
<circle cx="1767.2" cy="1312.1" r="8.55"/>
<circle cx="1771.9" cy="1312.2" r="8.55"/>
<circle cx="1776.6" cy="1312.3" r="8.55"/>
<circle cx="1781.2" cy="1312.4" r="8.55"/>
<circle cx="1785.9" cy="1312.5" r="8.55"/>
<circle cx="1790.5" cy="1312.6" r="8.55"/>
<circle cx="1795.2" cy="1312.7" r="8.55"/>
<circle cx="1799.8" cy="1312.8" r="8.55"/>
<circle cx="1804.5" cy="1312.9" r="8.55"/>
<circle cx="1809.1" cy="1313.1" r="8.55"/>
<circle cx="1813.8" cy="1313.2" r="8.55"/>
<circle cx="1818.5" cy="1313.3" r="8.55"/>
<circle cx="1823.1" cy="1313.4" r="8.55"/>
<circle cx="1827.8" cy="1313.6" r="8.55"/>
<circle cx="1832.4" cy="1313.7" r="8.55"/>
<circle cx="1837.1" cy="1313.8" r="8.55"/>
<circle cx="1841.7" cy="1314" r="8.55"/>
<circle cx="1846.4" cy="1314.1" r="8.55"/>
<circle cx="1851" cy="1314.2" r="8.55"/>
<circle cx="1855.7" cy="1314.4" r="8.55"/>
<circle cx="1860.3" cy="1314.5" r="8.55"/>
<circle cx="1865" cy="1314.7" r="8.55"/>
<circle cx="1869.7" cy="1314.8" r="8.55"/>
<circle cx="1874.3" cy="1315" r="8.55"/>
<circle cx="1879" cy="1315.2" r="8.55"/>
<circle cx="1883.6" cy="1315.3" r="8.55"/>
<circle cx="1888.3" cy="1315.5" r="8.55"/>
<circle cx="1892.9" cy="1315.7" r="8.55"/>
<circle cx="1897.6" cy="1315.8" r="8.55"/>
<circle cx="1902.2" cy="1316" r="8.55"/>
<circle cx="1906.9" cy="1316.2" r="8.55"/>
<circle cx="1911.6" cy="1316.4" r="8.55"/>
<circle cx="1916.2" cy="1316.5" r="8.55"/>
<circle cx="1920.9" cy="1316.7" r="8.55"/>
<circle cx="1925.5" cy="1316.9" r="8.55"/>
<circle cx="1930.2" cy="1317.1" r="8.55"/>
</g>
<circle cx="1233" cy="1179" r="8.3" fill="#fff" stroke="#C0284A" stroke-width="2.3"/>
<circle cx="1326.3" cy="1195.3" r="8.3" fill="#fff" stroke="#C0284A" stroke-width="2.3"/>
<circle cx="1419.2" cy="1194" r="8.3" fill="#fff" stroke="#C0284A" stroke-width="2.3"/>
<circle cx="1512.5" cy="1175.7" r="8.3" fill="#fff" stroke="#C0284A" stroke-width="2.3"/>
<circle cx="1698.7" cy="1160.7" r="8.3" fill="#fff" stroke="#C0284A" stroke-width="2.3"/>
<circle cx="1884.8" cy="1184.8" r="8.3" fill="#fff" stroke="#C0284A" stroke-width="2.3"/>
<circle cx="1186.2" cy="1513.4" r="8.3" fill="#fff" stroke="#C0284A" stroke-width="2.3"/>
<circle cx="1233" cy="1514.6" r="8.3" fill="#fff" stroke="#C0284A" stroke-width="2.3"/>
<circle cx="1279.4" cy="1516.6" r="8.3" fill="#fff" stroke="#C0284A" stroke-width="2.3"/>
<circle cx="1325.8" cy="1515.9" r="8.3" fill="#fff" stroke="#C0284A" stroke-width="2.3"/>
<circle cx="1233" cy="1209.5" r="8.3" fill="#fff" stroke="#1A7A44" stroke-width="2.3"/>
<circle cx="1326.3" cy="1220.6" r="8.3" fill="#fff" stroke="#1A7A44" stroke-width="2.3"/>
<circle cx="1419.2" cy="1218.6" r="8.3" fill="#fff" stroke="#1A7A44" stroke-width="2.3"/>
<circle cx="1512.5" cy="1234.1" r="8.3" fill="#fff" stroke="#1A7A44" stroke-width="2.3"/>
<circle cx="1698.7" cy="1214.8" r="8.3" fill="#fff" stroke="#1A7A44" stroke-width="2.3"/>
<circle cx="1884.8" cy="1232.2" r="8.3" fill="#fff" stroke="#1A7A44" stroke-width="2.3"/>
<line x1="1342" y1="1516.6" x2="1385.7" y2="1516.6" stroke="#C0284A" stroke-width="2.4"/>
<polygon points="1393.8,1516.6 1380.3,1509.7 1384.1,1516.6 1380.3,1523.5" fill="#C0284A"/>
<line x1="1719" y1="1157" x2="1762.2" y2="1157" stroke="#C0284A" stroke-width="2.4"/>
<polygon points="1770.3,1157 1756.8,1150.1 1760.6,1157 1756.8,1163.9" fill="#C0284A"/>
<line x1="1527.5" y1="1232.2" x2="1571.2" y2="1232.2" stroke="#1A7A44" stroke-width="2.4"/>
<polygon points="1579.3,1232.2 1565.8,1225.3 1569.6,1232.2 1565.8,1239.1" fill="#1A7A44"/>
<line x1="1210.5" y1="1335" x2="1167.7" y2="1335" stroke="#1565B0" stroke-width="2.2"/>
<polygon points="1160,1335 1172.8,1326 1169.2,1335 1172.8,1344" fill="#1565B0"/>
<line x1="1210.5" y1="1335.5" x2="1210.5" y2="1328.5" stroke="#1565B0" stroke-width="2.2"/>
<line x1="1205.5" y1="1416" x2="1162.9" y2="1416" stroke="#808080" stroke-width="2.2"/>
<polygon points="1155.2,1416 1168,1407 1164.4,1416 1168,1425" fill="#808080"/>
<line x1="1205.5" y1="1415" x2="1205.5" y2="1423" stroke="#808080" stroke-width="2.2"/>
<ellipse cx="1883" cy="1250.5" rx="31.5" ry="90" fill="none" stroke="#000" stroke-width="2.3" stroke-dasharray="8 6"/>
<rect x="1139.8" y="1129.6" width="792.2" height="406.3" fill="none" stroke="#000" stroke-width="2.4"/>
<line x1="1139.8" y1="1472.5" x2="1146.8" y2="1472.5" stroke="#000" stroke-width="2"/>
<text x="1131.8" y="1481.8" font-size="34" text-anchor="end">-4</text>
<line x1="1139.8" y1="1410.1" x2="1143.8" y2="1410.1" stroke="#000" stroke-width="2"/>
<line x1="1139.8" y1="1347.6" x2="1146.8" y2="1347.6" stroke="#000" stroke-width="2"/>
<text x="1131.8" y="1356.9" font-size="34" text-anchor="end">-2</text>
<line x1="1139.8" y1="1285.2" x2="1143.8" y2="1285.2" stroke="#000" stroke-width="2"/>
<line x1="1139.8" y1="1222.8" x2="1146.8" y2="1222.8" stroke="#000" stroke-width="2"/>
<text x="1131.8" y="1232.1" font-size="34" text-anchor="end">0</text>
<line x1="1139.8" y1="1160.4" x2="1143.8" y2="1160.4" stroke="#000" stroke-width="2"/>
<line x1="1139.8" y1="1535.9" x2="1139.8" y2="1542.9" stroke="#000" stroke-width="2"/>
<text x="1139.8" y="1575.6" font-size="34" text-anchor="middle">0</text>
<line x1="1232.9" y1="1535.9" x2="1232.9" y2="1539.9" stroke="#000" stroke-width="2"/>
<line x1="1326" y1="1535.9" x2="1326" y2="1542.9" stroke="#000" stroke-width="2"/>
<text x="1326" y="1575.6" font-size="34" text-anchor="middle">2</text>
<line x1="1419.1" y1="1535.9" x2="1419.1" y2="1539.9" stroke="#000" stroke-width="2"/>
<line x1="1512.2" y1="1535.9" x2="1512.2" y2="1542.9" stroke="#000" stroke-width="2"/>
<text x="1512.2" y="1575.6" font-size="34" text-anchor="middle">4</text>
<line x1="1605.3" y1="1535.9" x2="1605.3" y2="1539.9" stroke="#000" stroke-width="2"/>
<line x1="1698.4" y1="1535.9" x2="1698.4" y2="1542.9" stroke="#000" stroke-width="2"/>
<text x="1698.4" y="1575.6" font-size="34" text-anchor="middle">6</text>
<line x1="1791.5" y1="1535.9" x2="1791.5" y2="1539.9" stroke="#000" stroke-width="2"/>
<line x1="1884.6" y1="1535.9" x2="1884.6" y2="1542.9" stroke="#000" stroke-width="2"/>
<text x="1884.6" y="1575.6" font-size="34" text-anchor="middle">8</text>
<line x1="1925" y1="1518.3" x2="1932" y2="1518.3" stroke="#000" stroke-width="2"/>
<text x="1939.5" y="1527.4" font-size="34">0</text>
<line x1="1928" y1="1474.2" x2="1932" y2="1474.2" stroke="#000" stroke-width="2"/>
<line x1="1925" y1="1430" x2="1932" y2="1430" stroke="#000" stroke-width="2"/>
<text x="1939.5" y="1439.1" font-size="34">25</text>
<line x1="1928" y1="1385.9" x2="1932" y2="1385.9" stroke="#000" stroke-width="2"/>
<line x1="1925" y1="1341.8" x2="1932" y2="1341.8" stroke="#000" stroke-width="2"/>
<text x="1939.5" y="1350.8" font-size="34">50</text>
<line x1="1928" y1="1297.6" x2="1932" y2="1297.6" stroke="#000" stroke-width="2"/>
<line x1="1925" y1="1253.5" x2="1932" y2="1253.5" stroke="#000" stroke-width="2"/>
<text x="1939.5" y="1262.6" font-size="34">75</text>
<line x1="1928" y1="1209.3" x2="1932" y2="1209.3" stroke="#000" stroke-width="2"/>
<line x1="1925" y1="1165.2" x2="1932" y2="1165.2" stroke="#000" stroke-width="2"/>
<text x="1939.5" y="1174.3" font-size="34">100</text>
<text x="1402.2" y="1524.7" font-size="26" fill="#C0284A" textLength="95.2" lengthAdjust="spacingAndGlyphs">FE<tspan font-size="19.5" baseline-shift="-8.5">Formate</tspan></text>
<text x="1747.1" y="1190.5" font-size="26" fill="#C0284A" textLength="96.1" lengthAdjust="spacingAndGlyphs">FE<tspan font-size="19.5" baseline-shift="-8.5">Formate</tspan></text>
<text x="1544.9" y="1265" font-size="26" fill="#1A7A44" textLength="194.8" lengthAdjust="spacingAndGlyphs">Full-cell EE<tspan font-size="19.5" baseline-shift="-8.5">Formate</tspan></text>
<text x="1810.4" y="1360.5" font-size="29.5" textLength="73.2" lengthAdjust="spacingAndGlyphs">PdC<tspan font-size="20" baseline-shift="-8">60</tspan></text>
<text x="1302.7" y="1473.3" font-size="29.5" textLength="49.3" lengthAdjust="spacingAndGlyphs">PdC</text>
<text x="1601.5" y="1499.5" font-size="28" textLength="309.4" lengthAdjust="spacingAndGlyphs">@ 100 mA cm<tspan font-size="18" baseline-shift="12">−2</tspan> (4 cm<tspan font-size="18" baseline-shift="12">2</tspan>)</text>
<text x="1535" y="1633.5" font-size="30" text-anchor="middle" textLength="120" lengthAdjust="spacingAndGlyphs">Time (h)</text>
<text x="1088" y="1332.3" font-size="31.5" text-anchor="middle" transform="rotate(-90 1088 1332.3)" textLength="221" lengthAdjust="spacingAndGlyphs">Cell voltage (V)</text>
<text x="2031" y="1336" font-size="30" text-anchor="middle" transform="rotate(-90 2031 1336)">%</text>
<text x="1056" y="1140.3" font-size="46" fill="#231815" textLength="26" lengthAdjust="spacingAndGlyphs" font-weight="bold">g</text>
</g>
</svg></body></html>
